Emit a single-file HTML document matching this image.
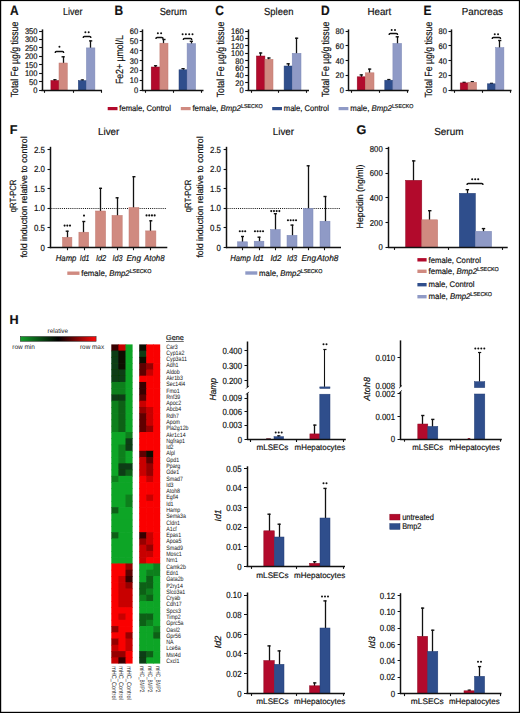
<!DOCTYPE html>
<html><head><meta charset="utf-8"><style>
html,body{margin:0;padding:0;background:#fff;}
svg{display:block;text-rendering:geometricPrecision;}
text{font-family:"Liberation Sans", sans-serif;fill:#111;stroke:#111;stroke-width:0.18px;}
</style></head><body>
<svg width="520" height="713" viewBox="0 0 520 713">
<rect x="0" y="0" width="520" height="713" fill="#fff"/>
<text x="10" y="14.6" font-size="13.6" font-weight="bold" textLength="8.64" lengthAdjust="spacingAndGlyphs">A</text>
<text x="63" y="14.7" font-size="10.2" textLength="19.5" lengthAdjust="spacingAndGlyphs">Liver</text>
<line x1="39.1" y1="90.5" x2="42" y2="90.5" stroke="#111" stroke-width="1.1"/>
<text x="37.5" y="92.95" font-size="8.2" text-anchor="end" textLength="4.19" lengthAdjust="spacingAndGlyphs">0</text>
<line x1="39.1" y1="81.5" x2="42" y2="81.5" stroke="#111" stroke-width="1.1"/>
<text x="37.5" y="84.54" font-size="8.2" text-anchor="end" textLength="8.39" lengthAdjust="spacingAndGlyphs">50</text>
<line x1="39.1" y1="73.5" x2="42" y2="73.5" stroke="#111" stroke-width="1.1"/>
<text x="37.5" y="76.12" font-size="8.2" text-anchor="end" textLength="12.58" lengthAdjust="spacingAndGlyphs">100</text>
<line x1="39.1" y1="64.5" x2="42" y2="64.5" stroke="#111" stroke-width="1.1"/>
<text x="37.5" y="67.71" font-size="8.2" text-anchor="end" textLength="12.58" lengthAdjust="spacingAndGlyphs">150</text>
<line x1="39.1" y1="56.5" x2="42" y2="56.5" stroke="#111" stroke-width="1.1"/>
<text x="37.5" y="59.29" font-size="8.2" text-anchor="end" textLength="12.58" lengthAdjust="spacingAndGlyphs">200</text>
<line x1="39.1" y1="47.5" x2="42" y2="47.5" stroke="#111" stroke-width="1.1"/>
<text x="37.5" y="50.88" font-size="8.2" text-anchor="end" textLength="12.58" lengthAdjust="spacingAndGlyphs">250</text>
<line x1="39.1" y1="39.5" x2="42" y2="39.5" stroke="#111" stroke-width="1.1"/>
<text x="37.5" y="42.47" font-size="8.2" text-anchor="end" textLength="12.58" lengthAdjust="spacingAndGlyphs">300</text>
<line x1="39.1" y1="31.5" x2="42" y2="31.5" stroke="#111" stroke-width="1.1"/>
<text x="37.5" y="34.05" font-size="8.2" text-anchor="end" textLength="12.58" lengthAdjust="spacingAndGlyphs">350</text>
<line x1="54.5" y1="81" x2="54.5" y2="79.4" stroke="#111" stroke-width="1.3"/>
<line x1="53.35" y1="79.8" x2="56.55" y2="79.8" stroke="#111" stroke-width="1.4"/>
<rect x="50.9" y="80.5" width="8.1" height="9.7" fill="#b20a2c" stroke="#8e0c25" stroke-width="0.5"/>
<line x1="63.5" y1="63.5" x2="63.5" y2="56.4" stroke="#111" stroke-width="1.3"/>
<line x1="61.55" y1="56.8" x2="64.75" y2="56.8" stroke="#111" stroke-width="1.4"/>
<rect x="59" y="63" width="8.3" height="27.2" fill="#d08a80" stroke="#c27a70" stroke-width="0.5"/>
<line x1="82.5" y1="81.1" x2="82.5" y2="79.6" stroke="#111" stroke-width="1.3"/>
<line x1="80.75" y1="80" x2="83.95" y2="80" stroke="#111" stroke-width="1.4"/>
<rect x="78.3" y="80.6" width="8.1" height="9.6" fill="#2f4e8c" stroke="#243f75" stroke-width="0.5"/>
<line x1="90.5" y1="48.4" x2="90.5" y2="40.5" stroke="#111" stroke-width="1.3"/>
<line x1="89.05" y1="40.9" x2="92.25" y2="40.9" stroke="#111" stroke-width="1.4"/>
<rect x="86.4" y="47.9" width="8.5" height="42.3" fill="#8f9ac6" stroke="#7d88b6" stroke-width="0.5"/>
<path d="M55.2 53.1 Q55.2 51.5 56.4 51.5 L62.5 51.5 Q63.7 51.5 63.7 53.1" fill="none" stroke="#111" stroke-width="1.4"/>
<circle cx="59.45" cy="46.8" r="1" fill="#111"/>
<path d="M83.2 38.1 Q83.2 36.5 84.4 36.5 L89.7 36.5 Q90.9 36.5 90.9 38.1" fill="none" stroke="#111" stroke-width="1.4"/>
<circle cx="85.4" cy="32.2" r="1" fill="#111"/>
<circle cx="88.7" cy="32.2" r="1" fill="#111"/>
<text x="17.7" y="97.3" font-size="10.4" textLength="75.6" lengthAdjust="spacingAndGlyphs" transform="rotate(-90 17.7 97.3)">Total Fe µg/g tissue</text>
<text x="114.6" y="14.6" font-size="13.6" font-weight="bold" textLength="8.64" lengthAdjust="spacingAndGlyphs">B</text>
<text x="159.7" y="14.7" font-size="10.2" textLength="27.3" lengthAdjust="spacingAndGlyphs">Serum</text>
<line x1="139.7" y1="90.5" x2="142.6" y2="90.5" stroke="#111" stroke-width="1.1"/>
<text x="138.1" y="92.95" font-size="8.2" text-anchor="end" textLength="4.19" lengthAdjust="spacingAndGlyphs">0</text>
<line x1="139.7" y1="80.5" x2="142.6" y2="80.5" stroke="#111" stroke-width="1.1"/>
<text x="138.1" y="83.14" font-size="8.2" text-anchor="end" textLength="8.39" lengthAdjust="spacingAndGlyphs">10</text>
<line x1="139.7" y1="70.5" x2="142.6" y2="70.5" stroke="#111" stroke-width="1.1"/>
<text x="138.1" y="73.32" font-size="8.2" text-anchor="end" textLength="8.39" lengthAdjust="spacingAndGlyphs">20</text>
<line x1="139.7" y1="60.5" x2="142.6" y2="60.5" stroke="#111" stroke-width="1.1"/>
<text x="138.1" y="63.5" font-size="8.2" text-anchor="end" textLength="8.39" lengthAdjust="spacingAndGlyphs">30</text>
<line x1="139.7" y1="50.5" x2="142.6" y2="50.5" stroke="#111" stroke-width="1.1"/>
<text x="138.1" y="53.69" font-size="8.2" text-anchor="end" textLength="8.39" lengthAdjust="spacingAndGlyphs">40</text>
<line x1="139.7" y1="40.5" x2="142.6" y2="40.5" stroke="#111" stroke-width="1.1"/>
<text x="138.1" y="43.87" font-size="8.2" text-anchor="end" textLength="8.39" lengthAdjust="spacingAndGlyphs">50</text>
<line x1="139.7" y1="31.5" x2="142.6" y2="31.5" stroke="#111" stroke-width="1.1"/>
<text x="138.1" y="34.05" font-size="8.2" text-anchor="end" textLength="8.39" lengthAdjust="spacingAndGlyphs">60</text>
<line x1="155.5" y1="67.5" x2="155.5" y2="65.4" stroke="#111" stroke-width="1.3"/>
<line x1="153.95" y1="65.8" x2="157.15" y2="65.8" stroke="#111" stroke-width="1.4"/>
<rect x="151.2" y="67" width="8.7" height="23.2" fill="#b20a2c" stroke="#8e0c25" stroke-width="0.5"/>
<line x1="163.5" y1="43.7" x2="163.5" y2="39.1" stroke="#111" stroke-width="1.3"/>
<line x1="162.35" y1="39.5" x2="165.55" y2="39.5" stroke="#111" stroke-width="1.4"/>
<rect x="159.9" y="43.2" width="8.1" height="47" fill="#d08a80" stroke="#c27a70" stroke-width="0.5"/>
<line x1="183.5" y1="70.3" x2="183.5" y2="68.3" stroke="#111" stroke-width="1.3"/>
<line x1="181.45" y1="68.7" x2="184.65" y2="68.7" stroke="#111" stroke-width="1.4"/>
<rect x="179" y="69.8" width="8.1" height="20.4" fill="#2f4e8c" stroke="#243f75" stroke-width="0.5"/>
<line x1="191.5" y1="44.1" x2="191.5" y2="40.9" stroke="#111" stroke-width="1.3"/>
<line x1="189.75" y1="41.3" x2="192.95" y2="41.3" stroke="#111" stroke-width="1.4"/>
<rect x="187.1" y="43.6" width="8.5" height="46.6" fill="#8f9ac6" stroke="#7d88b6" stroke-width="0.5"/>
<path d="M155.9 39.1 Q155.9 37.5 157.1 37.5 L161.9 37.5 Q163.1 37.5 163.1 39.1" fill="none" stroke="#111" stroke-width="1.4"/>
<circle cx="157.85" cy="33.3" r="1" fill="#111"/>
<circle cx="161.15" cy="33.3" r="1" fill="#111"/>
<path d="M183.3 40.1 Q183.3 38.5 184.5 38.5 L190.6 38.5 Q191.8 38.5 191.8 40.1" fill="none" stroke="#111" stroke-width="1.4"/>
<circle cx="182.6" cy="34.2" r="1" fill="#111"/>
<circle cx="185.9" cy="34.2" r="1" fill="#111"/>
<circle cx="189.2" cy="34.2" r="1" fill="#111"/>
<circle cx="192.5" cy="34.2" r="1" fill="#111"/>
<text x="122.9" y="84.1" font-size="10.4" textLength="48.9" lengthAdjust="spacingAndGlyphs" transform="rotate(-90 122.9 84.1)">Fe2+ µmol/L</text>
<text x="215.2" y="14.6" font-size="13.6" font-weight="bold" textLength="8.64" lengthAdjust="spacingAndGlyphs">C</text>
<text x="264" y="14.7" font-size="10.2" textLength="29.4" lengthAdjust="spacingAndGlyphs">Spleen</text>
<line x1="245.2" y1="90.5" x2="248.1" y2="90.5" stroke="#111" stroke-width="1.1"/>
<text x="243.6" y="92.95" font-size="8.2" text-anchor="end" textLength="4.19" lengthAdjust="spacingAndGlyphs">0</text>
<line x1="245.2" y1="82.5" x2="248.1" y2="82.5" stroke="#111" stroke-width="1.1"/>
<text x="243.6" y="85.59" font-size="8.2" text-anchor="end" textLength="8.39" lengthAdjust="spacingAndGlyphs">20</text>
<line x1="245.2" y1="75.5" x2="248.1" y2="75.5" stroke="#111" stroke-width="1.1"/>
<text x="243.6" y="78.23" font-size="8.2" text-anchor="end" textLength="8.39" lengthAdjust="spacingAndGlyphs">40</text>
<line x1="245.2" y1="67.5" x2="248.1" y2="67.5" stroke="#111" stroke-width="1.1"/>
<text x="243.6" y="70.86" font-size="8.2" text-anchor="end" textLength="8.39" lengthAdjust="spacingAndGlyphs">60</text>
<line x1="245.2" y1="60.5" x2="248.1" y2="60.5" stroke="#111" stroke-width="1.1"/>
<text x="243.6" y="63.5" font-size="8.2" text-anchor="end" textLength="8.39" lengthAdjust="spacingAndGlyphs">80</text>
<line x1="245.2" y1="53.5" x2="248.1" y2="53.5" stroke="#111" stroke-width="1.1"/>
<text x="243.6" y="56.14" font-size="8.2" text-anchor="end" textLength="12.58" lengthAdjust="spacingAndGlyphs">100</text>
<line x1="245.2" y1="45.5" x2="248.1" y2="45.5" stroke="#111" stroke-width="1.1"/>
<text x="243.6" y="48.78" font-size="8.2" text-anchor="end" textLength="12.58" lengthAdjust="spacingAndGlyphs">120</text>
<line x1="245.2" y1="38.5" x2="248.1" y2="38.5" stroke="#111" stroke-width="1.1"/>
<text x="243.6" y="41.41" font-size="8.2" text-anchor="end" textLength="12.58" lengthAdjust="spacingAndGlyphs">140</text>
<line x1="245.2" y1="31.5" x2="248.1" y2="31.5" stroke="#111" stroke-width="1.1"/>
<text x="243.6" y="34.05" font-size="8.2" text-anchor="end" textLength="12.58" lengthAdjust="spacingAndGlyphs">160</text>
<line x1="260.5" y1="56.5" x2="260.5" y2="52.6" stroke="#111" stroke-width="1.3"/>
<line x1="259.05" y1="53" x2="262.25" y2="53" stroke="#111" stroke-width="1.4"/>
<rect x="256.4" y="56" width="8.5" height="34.2" fill="#b20a2c" stroke="#8e0c25" stroke-width="0.5"/>
<line x1="268.5" y1="59.8" x2="268.5" y2="57.6" stroke="#111" stroke-width="1.3"/>
<line x1="267.35" y1="58" x2="270.55" y2="58" stroke="#111" stroke-width="1.4"/>
<rect x="264.9" y="59.3" width="8.1" height="30.9" fill="#d08a80" stroke="#c27a70" stroke-width="0.5"/>
<line x1="288.5" y1="66.5" x2="288.5" y2="63.4" stroke="#111" stroke-width="1.3"/>
<line x1="286.55" y1="63.8" x2="289.75" y2="63.8" stroke="#111" stroke-width="1.4"/>
<rect x="284.1" y="66" width="8.1" height="24.2" fill="#2f4e8c" stroke="#243f75" stroke-width="0.5"/>
<line x1="296.5" y1="53.8" x2="296.5" y2="37.8" stroke="#111" stroke-width="1.3"/>
<line x1="295" y1="38.2" x2="298.2" y2="38.2" stroke="#111" stroke-width="1.4"/>
<rect x="292.2" y="53.3" width="8.8" height="36.9" fill="#8f9ac6" stroke="#7d88b6" stroke-width="0.5"/>
<text x="224" y="97.3" font-size="10.4" textLength="75.6" lengthAdjust="spacingAndGlyphs" transform="rotate(-90 224 97.3)">Total Fe µg/g tissue</text>
<text x="320.9" y="14.6" font-size="13.6" font-weight="bold" textLength="8.64" lengthAdjust="spacingAndGlyphs">D</text>
<text x="367.4" y="14.7" font-size="10.2" textLength="23.9" lengthAdjust="spacingAndGlyphs">Heart</text>
<line x1="345.6" y1="90.5" x2="348.5" y2="90.5" stroke="#111" stroke-width="1.1"/>
<text x="344" y="92.95" font-size="8.2" text-anchor="end" textLength="4.19" lengthAdjust="spacingAndGlyphs">0</text>
<line x1="345.6" y1="75.5" x2="348.5" y2="75.5" stroke="#111" stroke-width="1.1"/>
<text x="344" y="78.23" font-size="8.2" text-anchor="end" textLength="8.39" lengthAdjust="spacingAndGlyphs">20</text>
<line x1="345.6" y1="60.5" x2="348.5" y2="60.5" stroke="#111" stroke-width="1.1"/>
<text x="344" y="63.5" font-size="8.2" text-anchor="end" textLength="8.39" lengthAdjust="spacingAndGlyphs">40</text>
<line x1="345.6" y1="45.5" x2="348.5" y2="45.5" stroke="#111" stroke-width="1.1"/>
<text x="344" y="48.78" font-size="8.2" text-anchor="end" textLength="8.39" lengthAdjust="spacingAndGlyphs">60</text>
<line x1="345.6" y1="31.5" x2="348.5" y2="31.5" stroke="#111" stroke-width="1.1"/>
<text x="344" y="34.05" font-size="8.2" text-anchor="end" textLength="8.39" lengthAdjust="spacingAndGlyphs">80</text>
<line x1="361.5" y1="77.3" x2="361.5" y2="74.5" stroke="#111" stroke-width="1.3"/>
<line x1="359.65" y1="74.9" x2="362.85" y2="74.9" stroke="#111" stroke-width="1.4"/>
<rect x="357.2" y="76.8" width="8.1" height="13.4" fill="#b20a2c" stroke="#8e0c25" stroke-width="0.5"/>
<line x1="369.5" y1="73.3" x2="369.5" y2="68.7" stroke="#111" stroke-width="1.3"/>
<line x1="368.05" y1="69.1" x2="371.25" y2="69.1" stroke="#111" stroke-width="1.4"/>
<rect x="365.3" y="72.8" width="8.7" height="17.4" fill="#d08a80" stroke="#c27a70" stroke-width="0.5"/>
<line x1="388.5" y1="80.7" x2="388.5" y2="79.2" stroke="#111" stroke-width="1.3"/>
<line x1="387.25" y1="79.6" x2="390.45" y2="79.6" stroke="#111" stroke-width="1.4"/>
<rect x="384.8" y="80.2" width="8.1" height="10" fill="#2f4e8c" stroke="#243f75" stroke-width="0.5"/>
<line x1="397.5" y1="43.9" x2="397.5" y2="36.4" stroke="#111" stroke-width="1.3"/>
<line x1="395.65" y1="36.8" x2="398.85" y2="36.8" stroke="#111" stroke-width="1.4"/>
<rect x="392.9" y="43.4" width="8.7" height="46.8" fill="#8f9ac6" stroke="#7d88b6" stroke-width="0.5"/>
<path d="M389.1 35.1 Q389.1 33.5 390.3 33.5 L396.4 33.5 Q397.6 33.5 397.6 35.1" fill="none" stroke="#111" stroke-width="1.4"/>
<circle cx="391.7" cy="29.9" r="1" fill="#111"/>
<circle cx="395" cy="29.9" r="1" fill="#111"/>
<text x="328.7" y="97.1" font-size="10.4" textLength="75.4" lengthAdjust="spacingAndGlyphs" transform="rotate(-90 328.7 97.1)">Total Fe µg/g tissue</text>
<text x="423.6" y="14.6" font-size="13.6" font-weight="bold" textLength="7.98" lengthAdjust="spacingAndGlyphs">E</text>
<text x="461.8" y="14.7" font-size="10.2" textLength="41.2" lengthAdjust="spacingAndGlyphs">Pancreas</text>
<line x1="448.5" y1="90.5" x2="451.4" y2="90.5" stroke="#111" stroke-width="1.1"/>
<text x="446.9" y="92.95" font-size="8.2" text-anchor="end" textLength="4.19" lengthAdjust="spacingAndGlyphs">0</text>
<line x1="448.5" y1="75.5" x2="451.4" y2="75.5" stroke="#111" stroke-width="1.1"/>
<text x="446.9" y="78.23" font-size="8.2" text-anchor="end" textLength="8.39" lengthAdjust="spacingAndGlyphs">20</text>
<line x1="448.5" y1="60.5" x2="451.4" y2="60.5" stroke="#111" stroke-width="1.1"/>
<text x="446.9" y="63.5" font-size="8.2" text-anchor="end" textLength="8.39" lengthAdjust="spacingAndGlyphs">40</text>
<line x1="448.5" y1="45.5" x2="451.4" y2="45.5" stroke="#111" stroke-width="1.1"/>
<text x="446.9" y="48.78" font-size="8.2" text-anchor="end" textLength="8.39" lengthAdjust="spacingAndGlyphs">60</text>
<line x1="448.5" y1="31.5" x2="451.4" y2="31.5" stroke="#111" stroke-width="1.1"/>
<text x="446.9" y="34.05" font-size="8.2" text-anchor="end" textLength="8.39" lengthAdjust="spacingAndGlyphs">80</text>
<line x1="464.5" y1="83.4" x2="464.5" y2="82" stroke="#111" stroke-width="1.3"/>
<line x1="462.5" y1="82.4" x2="465.7" y2="82.4" stroke="#111" stroke-width="1.4"/>
<rect x="460.2" y="82.9" width="7.8" height="7.3" fill="#b20a2c" stroke="#8e0c25" stroke-width="0.5"/>
<line x1="472.5" y1="82.7" x2="472.5" y2="81.3" stroke="#111" stroke-width="1.3"/>
<line x1="470.7" y1="81.7" x2="473.9" y2="81.7" stroke="#111" stroke-width="1.4"/>
<rect x="468" y="82.2" width="8.6" height="8" fill="#d08a80" stroke="#c27a70" stroke-width="0.5"/>
<line x1="491.5" y1="84.3" x2="491.5" y2="83" stroke="#111" stroke-width="1.3"/>
<line x1="489.9" y1="83.4" x2="493.1" y2="83.4" stroke="#111" stroke-width="1.4"/>
<rect x="487.4" y="83.8" width="8.2" height="6.4" fill="#2f4e8c" stroke="#243f75" stroke-width="0.5"/>
<line x1="499.5" y1="48.1" x2="499.5" y2="40.1" stroke="#111" stroke-width="1.3"/>
<line x1="498.15" y1="40.5" x2="501.35" y2="40.5" stroke="#111" stroke-width="1.4"/>
<rect x="495.6" y="47.6" width="8.3" height="42.6" fill="#8f9ac6" stroke="#7d88b6" stroke-width="0.5"/>
<path d="M492.2 39.1 Q492.2 37.5 493.4 37.5 L499.4 37.5 Q500.6 37.5 500.6 39.1" fill="none" stroke="#111" stroke-width="1.4"/>
<circle cx="494.75" cy="34.2" r="1" fill="#111"/>
<circle cx="498.05" cy="34.2" r="1" fill="#111"/>
<text x="431.6" y="97.5" font-size="10.4" textLength="75.8" lengthAdjust="spacingAndGlyphs" transform="rotate(-90 431.6 97.5)">Total Fe µg/g tissue</text>
<rect x="107.7" y="107" width="9.8" height="3.2" fill="#b20a2c"/>
<text x="119.3" y="111.37" font-size="8.4" textLength="51.7" lengthAdjust="spacingAndGlyphs">female, Control</text>
<rect x="180.8" y="107" width="9.8" height="3.2" fill="#d08a80"/>
<text x="192.4" y="111.37" font-size="8.4" textLength="70.3" lengthAdjust="spacingAndGlyphs">female, <tspan font-style="italic">Bmp2</tspan><tspan font-size="5.71" dy="-3.19">LSECKO</tspan></text>
<rect x="272.2" y="107" width="9.8" height="3.2" fill="#2f4e8c"/>
<text x="283.8" y="111.37" font-size="8.4" textLength="45.2" lengthAdjust="spacingAndGlyphs">male, Control</text>
<rect x="338.6" y="107" width="9.8" height="3.2" fill="#8f9ac6"/>
<text x="350.2" y="111.37" font-size="8.4" textLength="63.3" lengthAdjust="spacingAndGlyphs">male, <tspan font-style="italic">Bmp2</tspan><tspan font-size="5.71" dy="-3.19">LSECKO</tspan></text>
<line x1="47.5" y1="247.5" x2="50.4" y2="247.5" stroke="#111" stroke-width="1.1"/>
<text x="44.9" y="250.77" font-size="8.8" text-anchor="end" textLength="4.4" lengthAdjust="spacingAndGlyphs">0</text>
<line x1="47.5" y1="227.5" x2="50.4" y2="227.5" stroke="#111" stroke-width="1.1"/>
<text x="44.9" y="231.12" font-size="8.8" text-anchor="end" textLength="11.01" lengthAdjust="spacingAndGlyphs">0.5</text>
<line x1="47.5" y1="208.5" x2="50.4" y2="208.5" stroke="#111" stroke-width="1.1"/>
<text x="44.9" y="211.47" font-size="8.8" text-anchor="end" textLength="11.01" lengthAdjust="spacingAndGlyphs">1.0</text>
<line x1="47.5" y1="188.5" x2="50.4" y2="188.5" stroke="#111" stroke-width="1.1"/>
<text x="44.9" y="191.82" font-size="8.8" text-anchor="end" textLength="11.01" lengthAdjust="spacingAndGlyphs">1.5</text>
<line x1="47.5" y1="169.5" x2="50.4" y2="169.5" stroke="#111" stroke-width="1.1"/>
<text x="44.9" y="172.17" font-size="8.8" text-anchor="end" textLength="11.01" lengthAdjust="spacingAndGlyphs">2.0</text>
<line x1="47.5" y1="149.5" x2="50.4" y2="149.5" stroke="#111" stroke-width="1.1"/>
<text x="44.9" y="152.52" font-size="8.8" text-anchor="end" textLength="11.01" lengthAdjust="spacingAndGlyphs">2.5</text>
<line x1="51.4" y1="208.5" x2="166.4" y2="208.5" stroke="#111" stroke-width="1" stroke-dasharray="1 1.1"/>
<line x1="67.5" y1="237.8" x2="67.5" y2="230.8" stroke="#111" stroke-width="1.3"/>
<line x1="65.7" y1="231.2" x2="68.7" y2="231.2" stroke="#111" stroke-width="1.4"/>
<rect x="62.5" y="237.3" width="9.4" height="10.3" fill="#d08a80" stroke="#c27a70" stroke-width="0.5"/>
<line x1="83.5" y1="232.7" x2="83.5" y2="221.1" stroke="#111" stroke-width="1.3"/>
<line x1="82.3" y1="221.5" x2="85.3" y2="221.5" stroke="#111" stroke-width="1.4"/>
<rect x="78.9" y="232.2" width="9.8" height="15.4" fill="#d08a80" stroke="#c27a70" stroke-width="0.5"/>
<line x1="100.5" y1="211.5" x2="100.5" y2="187.9" stroke="#111" stroke-width="1.3"/>
<line x1="99.05" y1="188.3" x2="102.05" y2="188.3" stroke="#111" stroke-width="1.4"/>
<rect x="95.5" y="211" width="10.1" height="36.6" fill="#d08a80" stroke="#c27a70" stroke-width="0.5"/>
<line x1="117.5" y1="215.9" x2="117.5" y2="197.4" stroke="#111" stroke-width="1.3"/>
<line x1="115.6" y1="197.8" x2="118.6" y2="197.8" stroke="#111" stroke-width="1.4"/>
<rect x="112" y="215.4" width="10.2" height="32.2" fill="#d08a80" stroke="#c27a70" stroke-width="0.5"/>
<line x1="133.5" y1="208" x2="133.5" y2="176.3" stroke="#111" stroke-width="1.3"/>
<line x1="132.45" y1="176.7" x2="135.45" y2="176.7" stroke="#111" stroke-width="1.4"/>
<rect x="129" y="207.5" width="9.9" height="40.1" fill="#d08a80" stroke="#c27a70" stroke-width="0.5"/>
<line x1="150.5" y1="231.4" x2="150.5" y2="220.4" stroke="#111" stroke-width="1.3"/>
<line x1="149.3" y1="220.8" x2="152.3" y2="220.8" stroke="#111" stroke-width="1.4"/>
<rect x="145.7" y="230.9" width="10.2" height="16.7" fill="#d08a80" stroke="#c27a70" stroke-width="0.5"/>
<circle cx="64.6" cy="225.6" r="1.05" fill="#111"/>
<circle cx="67.3" cy="225.6" r="1.05" fill="#111"/>
<circle cx="70" cy="225.6" r="1.05" fill="#111"/>
<circle cx="84" cy="215.6" r="1.05" fill="#111"/>
<circle cx="146.55" cy="215.4" r="1.05" fill="#111"/>
<circle cx="149.25" cy="215.4" r="1.05" fill="#111"/>
<circle cx="151.95" cy="215.4" r="1.05" fill="#111"/>
<circle cx="154.65" cy="215.4" r="1.05" fill="#111"/>
<text x="55.8" y="260.9" font-size="8.6" font-style="italic" textLength="20.6" lengthAdjust="spacingAndGlyphs">Hamp</text>
<text x="79.7" y="260.9" font-size="8.6" font-style="italic" textLength="9.7" lengthAdjust="spacingAndGlyphs">Id1</text>
<text x="95.9" y="260.9" font-size="8.6" font-style="italic" textLength="10.3" lengthAdjust="spacingAndGlyphs">Id2</text>
<text x="112.4" y="260.9" font-size="8.6" font-style="italic" textLength="10.1" lengthAdjust="spacingAndGlyphs">Id3</text>
<text x="126.4" y="260.9" font-size="8.6" font-style="italic" textLength="14.6" lengthAdjust="spacingAndGlyphs">Eng</text>
<text x="144" y="260.9" font-size="8.6" font-style="italic" textLength="20.6" lengthAdjust="spacingAndGlyphs">Atoh8</text>
<text x="98" y="135.1" font-size="10.2" textLength="21.4" lengthAdjust="spacingAndGlyphs">Liver</text>
<line x1="223.6" y1="247.5" x2="226.5" y2="247.5" stroke="#111" stroke-width="1.1"/>
<text x="221" y="250.77" font-size="8.8" text-anchor="end" textLength="4.4" lengthAdjust="spacingAndGlyphs">0</text>
<line x1="223.6" y1="227.5" x2="226.5" y2="227.5" stroke="#111" stroke-width="1.1"/>
<text x="221" y="231.12" font-size="8.8" text-anchor="end" textLength="11.01" lengthAdjust="spacingAndGlyphs">0.5</text>
<line x1="223.6" y1="208.5" x2="226.5" y2="208.5" stroke="#111" stroke-width="1.1"/>
<text x="221" y="211.47" font-size="8.8" text-anchor="end" textLength="11.01" lengthAdjust="spacingAndGlyphs">1.0</text>
<line x1="223.6" y1="188.5" x2="226.5" y2="188.5" stroke="#111" stroke-width="1.1"/>
<text x="221" y="191.82" font-size="8.8" text-anchor="end" textLength="11.01" lengthAdjust="spacingAndGlyphs">1.5</text>
<line x1="223.6" y1="169.5" x2="226.5" y2="169.5" stroke="#111" stroke-width="1.1"/>
<text x="221" y="172.17" font-size="8.8" text-anchor="end" textLength="11.01" lengthAdjust="spacingAndGlyphs">2.0</text>
<line x1="223.6" y1="149.5" x2="226.5" y2="149.5" stroke="#111" stroke-width="1.1"/>
<text x="221" y="152.52" font-size="8.8" text-anchor="end" textLength="11.01" lengthAdjust="spacingAndGlyphs">2.5</text>
<line x1="227.5" y1="208.5" x2="340.5" y2="208.5" stroke="#111" stroke-width="1" stroke-dasharray="1 1.1"/>
<line x1="242.5" y1="242.3" x2="242.5" y2="236.1" stroke="#111" stroke-width="1.3"/>
<line x1="241" y1="236.5" x2="244" y2="236.5" stroke="#111" stroke-width="1.4"/>
<rect x="237.5" y="241.8" width="10" height="5.8" fill="#8f9ac6" stroke="#7d88b6" stroke-width="0.5"/>
<line x1="259.5" y1="241.7" x2="259.5" y2="236.8" stroke="#111" stroke-width="1.3"/>
<line x1="257.55" y1="237.2" x2="260.55" y2="237.2" stroke="#111" stroke-width="1.4"/>
<rect x="254.2" y="241.2" width="9.7" height="6.4" fill="#8f9ac6" stroke="#7d88b6" stroke-width="0.5"/>
<line x1="275.5" y1="230" x2="275.5" y2="213.3" stroke="#111" stroke-width="1.3"/>
<line x1="273.85" y1="213.7" x2="276.85" y2="213.7" stroke="#111" stroke-width="1.4"/>
<rect x="270.5" y="229.5" width="9.7" height="18.1" fill="#8f9ac6" stroke="#7d88b6" stroke-width="0.5"/>
<line x1="292.5" y1="235.8" x2="292.5" y2="224.7" stroke="#111" stroke-width="1.3"/>
<line x1="290.5" y1="225.1" x2="293.5" y2="225.1" stroke="#111" stroke-width="1.4"/>
<rect x="287" y="235.3" width="10" height="12.3" fill="#8f9ac6" stroke="#7d88b6" stroke-width="0.5"/>
<line x1="308.5" y1="208.9" x2="308.5" y2="165.4" stroke="#111" stroke-width="1.3"/>
<line x1="306.65" y1="165.8" x2="309.65" y2="165.8" stroke="#111" stroke-width="1.4"/>
<rect x="303.3" y="208.4" width="9.7" height="39.2" fill="#8f9ac6" stroke="#7d88b6" stroke-width="0.5"/>
<line x1="325.5" y1="221.7" x2="325.5" y2="196.1" stroke="#111" stroke-width="1.3"/>
<line x1="323.5" y1="196.5" x2="326.5" y2="196.5" stroke="#111" stroke-width="1.4"/>
<rect x="320" y="221.2" width="10" height="26.4" fill="#8f9ac6" stroke="#7d88b6" stroke-width="0.5"/>
<circle cx="239.8" cy="231.3" r="1.05" fill="#111"/>
<circle cx="242.5" cy="231.3" r="1.05" fill="#111"/>
<circle cx="245.2" cy="231.3" r="1.05" fill="#111"/>
<circle cx="254.95" cy="231.3" r="1.05" fill="#111"/>
<circle cx="257.65" cy="231.3" r="1.05" fill="#111"/>
<circle cx="260.35" cy="231.3" r="1.05" fill="#111"/>
<circle cx="263.05" cy="231.3" r="1.05" fill="#111"/>
<circle cx="271.25" cy="211.1" r="1.05" fill="#111"/>
<circle cx="273.95" cy="211.1" r="1.05" fill="#111"/>
<circle cx="276.65" cy="211.1" r="1.05" fill="#111"/>
<circle cx="279.35" cy="211.1" r="1.05" fill="#111"/>
<circle cx="287.95" cy="220.2" r="1.05" fill="#111"/>
<circle cx="290.65" cy="220.2" r="1.05" fill="#111"/>
<circle cx="293.35" cy="220.2" r="1.05" fill="#111"/>
<circle cx="296.05" cy="220.2" r="1.05" fill="#111"/>
<text x="230.2" y="260.9" font-size="8.6" font-style="italic" textLength="20.5" lengthAdjust="spacingAndGlyphs">Hamp</text>
<text x="253" y="260.9" font-size="8.6" font-style="italic" textLength="11" lengthAdjust="spacingAndGlyphs">Id1</text>
<text x="270.4" y="260.9" font-size="8.6" font-style="italic" textLength="11.1" lengthAdjust="spacingAndGlyphs">Id2</text>
<text x="287" y="260.9" font-size="8.6" font-style="italic" textLength="10.2" lengthAdjust="spacingAndGlyphs">Id3</text>
<text x="301.4" y="260.9" font-size="8.6" font-style="italic" textLength="14.6" lengthAdjust="spacingAndGlyphs">Eng</text>
<text x="316.8" y="260.9" font-size="8.6" font-style="italic" textLength="21.6" lengthAdjust="spacingAndGlyphs">Atoh8</text>
<text x="272.8" y="135.1" font-size="10.2" textLength="21.2" lengthAdjust="spacingAndGlyphs">Liver</text>
<text x="9.8" y="134.2" font-size="12.6" font-weight="bold">F</text>
<text x="27.5" y="257.6" font-size="9" textLength="121.2" lengthAdjust="spacingAndGlyphs" transform="rotate(-90 27.5 257.6)">fold induction relative to control</text>
<text x="16.2" y="212.2" font-size="9" textLength="32.6" lengthAdjust="spacingAndGlyphs" transform="rotate(-90 16.2 212.2)">qRT-PCR</text>
<text x="202.9" y="257.6" font-size="9" textLength="121.2" lengthAdjust="spacingAndGlyphs" transform="rotate(-90 202.9 257.6)">fold induction relative to control</text>
<text x="191.4" y="212.2" font-size="9" textLength="32.6" lengthAdjust="spacingAndGlyphs" transform="rotate(-90 191.4 212.2)">qRT-PCR</text>
<rect x="67.3" y="271.5" width="12.2" height="3.4" fill="#d08a80"/>
<text x="81.3" y="275.99" font-size="8.2" textLength="70" lengthAdjust="spacingAndGlyphs">female, <tspan font-style="italic">Bmp2</tspan><tspan font-size="5.58" dy="-3.12">LSECKO</tspan></text>
<rect x="245.3" y="271.3" width="12" height="3.4" fill="#8f9ac6"/>
<text x="259.1" y="275.79" font-size="8.2" textLength="63.2" lengthAdjust="spacingAndGlyphs">male, <tspan font-style="italic">Bmp2</tspan><tspan font-size="5.58" dy="-3.12">LSECKO</tspan></text>
<text x="356.6" y="134.2" font-size="12.6" font-weight="bold">G</text>
<text x="434.2" y="135" font-size="10.2" textLength="29.3" lengthAdjust="spacingAndGlyphs">Serum</text>
<line x1="385.5" y1="247.5" x2="388.7" y2="247.5" stroke="#111" stroke-width="1.1"/>
<text x="382.7" y="250.4" font-size="8.6" text-anchor="end" textLength="4.3" lengthAdjust="spacingAndGlyphs">0</text>
<line x1="385.5" y1="222.5" x2="388.7" y2="222.5" stroke="#111" stroke-width="1.1"/>
<text x="382.7" y="225.67" font-size="8.6" text-anchor="end" textLength="12.91" lengthAdjust="spacingAndGlyphs">200</text>
<line x1="385.5" y1="197.5" x2="388.7" y2="197.5" stroke="#111" stroke-width="1.1"/>
<text x="382.7" y="200.95" font-size="8.6" text-anchor="end" textLength="12.91" lengthAdjust="spacingAndGlyphs">400</text>
<line x1="385.5" y1="173.5" x2="388.7" y2="173.5" stroke="#111" stroke-width="1.1"/>
<text x="382.7" y="176.22" font-size="8.6" text-anchor="end" textLength="12.91" lengthAdjust="spacingAndGlyphs">600</text>
<line x1="385.5" y1="148.5" x2="388.7" y2="148.5" stroke="#111" stroke-width="1.1"/>
<text x="382.7" y="151.5" font-size="8.6" text-anchor="end" textLength="12.91" lengthAdjust="spacingAndGlyphs">800</text>
<line x1="413.5" y1="180.8" x2="413.5" y2="160.5" stroke="#111" stroke-width="1.3"/>
<line x1="412" y1="160.9" x2="415.4" y2="160.9" stroke="#111" stroke-width="1.4"/>
<rect x="405.6" y="180.3" width="16.2" height="67" fill="#b20a2c" stroke="#8e0c25" stroke-width="0.5"/>
<line x1="429.5" y1="220.3" x2="429.5" y2="210.3" stroke="#111" stroke-width="1.3"/>
<line x1="428.05" y1="210.7" x2="431.45" y2="210.7" stroke="#111" stroke-width="1.4"/>
<rect x="421.8" y="219.8" width="15.9" height="27.5" fill="#d08a80" stroke="#c27a70" stroke-width="0.5"/>
<line x1="467.5" y1="193.8" x2="467.5" y2="189.3" stroke="#111" stroke-width="1.3"/>
<line x1="465.65" y1="189.7" x2="469.05" y2="189.7" stroke="#111" stroke-width="1.4"/>
<rect x="459.3" y="193.3" width="16.1" height="54" fill="#2f4e8c" stroke="#243f75" stroke-width="0.5"/>
<line x1="483.5" y1="231.8" x2="483.5" y2="228.2" stroke="#111" stroke-width="1.3"/>
<line x1="481.8" y1="228.6" x2="485.2" y2="228.6" stroke="#111" stroke-width="1.4"/>
<rect x="475.4" y="231.3" width="16.2" height="16" fill="#8f9ac6" stroke="#7d88b6" stroke-width="0.5"/>
<path d="M467 185.1 Q467 183.5 468.2 183.5 L481.8 183.5 Q483 183.5 483 185.1" fill="none" stroke="#111" stroke-width="1.4"/>
<circle cx="472.2" cy="179.3" r="1.05" fill="#111"/>
<circle cx="475.2" cy="179.3" r="1.05" fill="#111"/>
<circle cx="478.2" cy="179.3" r="1.05" fill="#111"/>
<text x="363.4" y="228.4" font-size="9.4" textLength="63.8" lengthAdjust="spacingAndGlyphs" transform="rotate(-90 363.4 228.4)">Hepcidin (ng/ml)</text>
<rect x="417.4" y="258.1" width="9.2" height="3.4" fill="#b20a2c"/>
<text x="428.6" y="262.59" font-size="8.2" textLength="52.3" lengthAdjust="spacingAndGlyphs">female, Control</text>
<rect x="417.4" y="269.6" width="9.2" height="3.4" fill="#d08a80"/>
<text x="428.6" y="274.09" font-size="8.2" textLength="70.2" lengthAdjust="spacingAndGlyphs">female, <tspan font-style="italic">Bmp2</tspan><tspan font-size="5.58" dy="-3.12">LSECKO</tspan></text>
<rect x="417.4" y="283" width="9.2" height="3.4" fill="#2f4e8c"/>
<text x="428.6" y="287.49" font-size="8.2" textLength="45.9" lengthAdjust="spacingAndGlyphs">male, Control</text>
<rect x="417.4" y="295" width="9.2" height="3.4" fill="#8f9ac6"/>
<text x="428.6" y="299.49" font-size="8.2" textLength="63.4" lengthAdjust="spacingAndGlyphs">male, <tspan font-style="italic">Bmp2</tspan><tspan font-size="5.58" dy="-3.12">LSECKO</tspan></text>
<text x="9.4" y="323.8" font-size="12.6" font-weight="bold">H</text>
<defs><linearGradient id="cb" x1="0" x2="1" y1="0" y2="0"><stop offset="0" stop-color="#12a02a"/><stop offset="0.5" stop-color="#000"/><stop offset="1" stop-color="#ff0a0a"/></linearGradient></defs>
<rect x="20.3" y="336.5" width="75.8" height="4.8" fill="url(#cb)" stroke="#222" stroke-width="0.5"/>
<text x="47.6" y="332.5" font-size="6.6" textLength="20.5" lengthAdjust="spacingAndGlyphs" style="fill:#222;stroke:none">relative</text>
<text x="12.3" y="349.4" font-size="6.6" textLength="22.6" lengthAdjust="spacingAndGlyphs" style="fill:#222;stroke:none">row min</text>
<text x="80" y="349.4" font-size="6.6" textLength="24.1" lengthAdjust="spacingAndGlyphs" style="fill:#222;stroke:none">row max</text>
<defs><filter id="hb" x="-5%" y="-1%" width="110%" height="102%"><feGaussianBlur stdDeviation="0.45"/></filter></defs><g filter="url(#hb)">
<rect x="111.3" y="344.4" width="7.8" height="6.96" fill="#370404"/>
<rect x="139.2" y="344.4" width="7.7" height="6.96" fill="#0e0a06"/>
<rect x="118.4" y="344.4" width="7.8" height="6.96" fill="#c80404"/>
<rect x="146.2" y="344.4" width="7.7" height="6.96" fill="#fa0606"/>
<rect x="125.5" y="344.4" width="7.1" height="6.96" fill="#10a528"/>
<rect x="153.2" y="344.4" width="7" height="6.96" fill="#fa0606"/>
<rect x="111.3" y="350.66" width="7.8" height="6.96" fill="#083e12"/>
<rect x="139.2" y="350.66" width="7.7" height="6.96" fill="#083e12"/>
<rect x="118.4" y="350.66" width="7.8" height="6.96" fill="#0e0a06"/>
<rect x="146.2" y="350.66" width="7.7" height="6.96" fill="#fa0606"/>
<rect x="125.5" y="350.66" width="7.1" height="6.96" fill="#10a528"/>
<rect x="153.2" y="350.66" width="7" height="6.96" fill="#fa0606"/>
<rect x="111.3" y="356.92" width="7.8" height="6.96" fill="#083e12"/>
<rect x="139.2" y="356.92" width="7.7" height="6.96" fill="#0e0a06"/>
<rect x="118.4" y="356.92" width="7.8" height="6.96" fill="#0e0a06"/>
<rect x="146.2" y="356.92" width="7.7" height="6.96" fill="#fa0606"/>
<rect x="125.5" y="356.92" width="7.1" height="6.96" fill="#10a528"/>
<rect x="153.2" y="356.92" width="7" height="6.96" fill="#fa0606"/>
<rect x="111.3" y="363.18" width="7.8" height="6.96" fill="#083e12"/>
<rect x="139.2" y="363.18" width="7.7" height="6.96" fill="#5f0404"/>
<rect x="118.4" y="363.18" width="7.8" height="6.96" fill="#0e0a06"/>
<rect x="146.2" y="363.18" width="7.7" height="6.96" fill="#960404"/>
<rect x="125.5" y="363.18" width="7.1" height="6.96" fill="#10a528"/>
<rect x="153.2" y="363.18" width="7" height="6.96" fill="#fa0606"/>
<rect x="111.3" y="369.44" width="7.8" height="6.96" fill="#083e12"/>
<rect x="139.2" y="369.44" width="7.7" height="6.96" fill="#5f0404"/>
<rect x="118.4" y="369.44" width="7.8" height="6.96" fill="#083e12"/>
<rect x="146.2" y="369.44" width="7.7" height="6.96" fill="#c80404"/>
<rect x="125.5" y="369.44" width="7.1" height="6.96" fill="#10a528"/>
<rect x="153.2" y="369.44" width="7" height="6.96" fill="#fa0606"/>
<rect x="111.3" y="375.69" width="7.8" height="6.96" fill="#083e12"/>
<rect x="139.2" y="375.69" width="7.7" height="6.96" fill="#fa0606"/>
<rect x="118.4" y="375.69" width="7.8" height="6.96" fill="#083e12"/>
<rect x="146.2" y="375.69" width="7.7" height="6.96" fill="#fa0606"/>
<rect x="125.5" y="375.69" width="7.1" height="6.96" fill="#10a528"/>
<rect x="153.2" y="375.69" width="7" height="6.96" fill="#fa0606"/>
<rect x="111.3" y="381.95" width="7.8" height="6.96" fill="#0c801e"/>
<rect x="139.2" y="381.95" width="7.7" height="6.96" fill="#370404"/>
<rect x="118.4" y="381.95" width="7.8" height="6.96" fill="#0c801e"/>
<rect x="146.2" y="381.95" width="7.7" height="6.96" fill="#fa0606"/>
<rect x="125.5" y="381.95" width="7.1" height="6.96" fill="#10a528"/>
<rect x="153.2" y="381.95" width="7" height="6.96" fill="#fa0606"/>
<rect x="111.3" y="388.21" width="7.8" height="6.96" fill="#0c801e"/>
<rect x="139.2" y="388.21" width="7.7" height="6.96" fill="#370404"/>
<rect x="118.4" y="388.21" width="7.8" height="6.96" fill="#0c801e"/>
<rect x="146.2" y="388.21" width="7.7" height="6.96" fill="#fa0606"/>
<rect x="125.5" y="388.21" width="7.1" height="6.96" fill="#10a528"/>
<rect x="153.2" y="388.21" width="7" height="6.96" fill="#fa0606"/>
<rect x="111.3" y="394.47" width="7.8" height="6.96" fill="#083e12"/>
<rect x="139.2" y="394.47" width="7.7" height="6.96" fill="#5f0404"/>
<rect x="118.4" y="394.47" width="7.8" height="6.96" fill="#083e12"/>
<rect x="146.2" y="394.47" width="7.7" height="6.96" fill="#fa0606"/>
<rect x="125.5" y="394.47" width="7.1" height="6.96" fill="#10a528"/>
<rect x="153.2" y="394.47" width="7" height="6.96" fill="#fa0606"/>
<rect x="111.3" y="400.73" width="7.8" height="6.96" fill="#0c801e"/>
<rect x="139.2" y="400.73" width="7.7" height="6.96" fill="#c80404"/>
<rect x="118.4" y="400.73" width="7.8" height="6.96" fill="#0a6018"/>
<rect x="146.2" y="400.73" width="7.7" height="6.96" fill="#fa0606"/>
<rect x="125.5" y="400.73" width="7.1" height="6.96" fill="#10a528"/>
<rect x="153.2" y="400.73" width="7" height="6.96" fill="#fa0606"/>
<rect x="111.3" y="406.99" width="7.8" height="6.96" fill="#0c801e"/>
<rect x="139.2" y="406.99" width="7.7" height="6.96" fill="#960404"/>
<rect x="118.4" y="406.99" width="7.8" height="6.96" fill="#0a6018"/>
<rect x="146.2" y="406.99" width="7.7" height="6.96" fill="#c80404"/>
<rect x="125.5" y="406.99" width="7.1" height="6.96" fill="#10a528"/>
<rect x="153.2" y="406.99" width="7" height="6.96" fill="#fa0606"/>
<rect x="111.3" y="413.25" width="7.8" height="6.96" fill="#0c801e"/>
<rect x="139.2" y="413.25" width="7.7" height="6.96" fill="#5f0404"/>
<rect x="118.4" y="413.25" width="7.8" height="6.96" fill="#0a6018"/>
<rect x="146.2" y="413.25" width="7.7" height="6.96" fill="#c80404"/>
<rect x="125.5" y="413.25" width="7.1" height="6.96" fill="#10a528"/>
<rect x="153.2" y="413.25" width="7" height="6.96" fill="#fa0606"/>
<rect x="111.3" y="419.51" width="7.8" height="6.96" fill="#0c801e"/>
<rect x="139.2" y="419.51" width="7.7" height="6.96" fill="#5f0404"/>
<rect x="118.4" y="419.51" width="7.8" height="6.96" fill="#0a6018"/>
<rect x="146.2" y="419.51" width="7.7" height="6.96" fill="#c80404"/>
<rect x="125.5" y="419.51" width="7.1" height="6.96" fill="#10a528"/>
<rect x="153.2" y="419.51" width="7" height="6.96" fill="#fa0606"/>
<rect x="111.3" y="425.76" width="7.8" height="6.96" fill="#0c801e"/>
<rect x="139.2" y="425.76" width="7.7" height="6.96" fill="#5f0404"/>
<rect x="118.4" y="425.76" width="7.8" height="6.96" fill="#0a6018"/>
<rect x="146.2" y="425.76" width="7.7" height="6.96" fill="#960404"/>
<rect x="125.5" y="425.76" width="7.1" height="6.96" fill="#10a528"/>
<rect x="153.2" y="425.76" width="7" height="6.96" fill="#fa0606"/>
<rect x="111.3" y="432.02" width="7.8" height="6.96" fill="#10a528"/>
<rect x="139.2" y="432.02" width="7.7" height="6.96" fill="#fa0606"/>
<rect x="118.4" y="432.02" width="7.8" height="6.96" fill="#10a528"/>
<rect x="146.2" y="432.02" width="7.7" height="6.96" fill="#fa0606"/>
<rect x="125.5" y="432.02" width="7.1" height="6.96" fill="#0c801e"/>
<rect x="153.2" y="432.02" width="7" height="6.96" fill="#fa0606"/>
<rect x="111.3" y="438.28" width="7.8" height="6.96" fill="#10a528"/>
<rect x="139.2" y="438.28" width="7.7" height="6.96" fill="#fa0606"/>
<rect x="118.4" y="438.28" width="7.8" height="6.96" fill="#10a528"/>
<rect x="146.2" y="438.28" width="7.7" height="6.96" fill="#fa0606"/>
<rect x="125.5" y="438.28" width="7.1" height="6.96" fill="#083e12"/>
<rect x="153.2" y="438.28" width="7" height="6.96" fill="#fa0606"/>
<rect x="111.3" y="444.54" width="7.8" height="6.96" fill="#10a528"/>
<rect x="139.2" y="444.54" width="7.7" height="6.96" fill="#fa0606"/>
<rect x="118.4" y="444.54" width="7.8" height="6.96" fill="#0c801e"/>
<rect x="146.2" y="444.54" width="7.7" height="6.96" fill="#fa0606"/>
<rect x="125.5" y="444.54" width="7.1" height="6.96" fill="#083e12"/>
<rect x="153.2" y="444.54" width="7" height="6.96" fill="#fa0606"/>
<rect x="111.3" y="450.8" width="7.8" height="6.96" fill="#10a528"/>
<rect x="139.2" y="450.8" width="7.7" height="6.96" fill="#5f0404"/>
<rect x="118.4" y="450.8" width="7.8" height="6.96" fill="#0c801e"/>
<rect x="146.2" y="450.8" width="7.7" height="6.96" fill="#0e0a06"/>
<rect x="125.5" y="450.8" width="7.1" height="6.96" fill="#10a528"/>
<rect x="153.2" y="450.8" width="7" height="6.96" fill="#fa0606"/>
<rect x="111.3" y="457.06" width="7.8" height="6.96" fill="#10a528"/>
<rect x="139.2" y="457.06" width="7.7" height="6.96" fill="#c80404"/>
<rect x="118.4" y="457.06" width="7.8" height="6.96" fill="#0c801e"/>
<rect x="146.2" y="457.06" width="7.7" height="6.96" fill="#5f0404"/>
<rect x="125.5" y="457.06" width="7.1" height="6.96" fill="#10a528"/>
<rect x="153.2" y="457.06" width="7" height="6.96" fill="#fa0606"/>
<rect x="111.3" y="463.32" width="7.8" height="6.96" fill="#10a528"/>
<rect x="139.2" y="463.32" width="7.7" height="6.96" fill="#c80404"/>
<rect x="118.4" y="463.32" width="7.8" height="6.96" fill="#083e12"/>
<rect x="146.2" y="463.32" width="7.7" height="6.96" fill="#960404"/>
<rect x="125.5" y="463.32" width="7.1" height="6.96" fill="#083e12"/>
<rect x="153.2" y="463.32" width="7" height="6.96" fill="#fa0606"/>
<rect x="111.3" y="469.58" width="7.8" height="6.96" fill="#10a528"/>
<rect x="139.2" y="469.58" width="7.7" height="6.96" fill="#c80404"/>
<rect x="118.4" y="469.58" width="7.8" height="6.96" fill="#083e12"/>
<rect x="146.2" y="469.58" width="7.7" height="6.96" fill="#960404"/>
<rect x="125.5" y="469.58" width="7.1" height="6.96" fill="#0a6018"/>
<rect x="153.2" y="469.58" width="7" height="6.96" fill="#fa0606"/>
<rect x="111.3" y="475.84" width="7.8" height="6.96" fill="#0c801e"/>
<rect x="139.2" y="475.84" width="7.7" height="6.96" fill="#fa0606"/>
<rect x="118.4" y="475.84" width="7.8" height="6.96" fill="#10a528"/>
<rect x="146.2" y="475.84" width="7.7" height="6.96" fill="#c80404"/>
<rect x="125.5" y="475.84" width="7.1" height="6.96" fill="#10a528"/>
<rect x="153.2" y="475.84" width="7" height="6.96" fill="#fa0606"/>
<rect x="111.3" y="482.09" width="7.8" height="6.96" fill="#10a528"/>
<rect x="139.2" y="482.09" width="7.7" height="6.96" fill="#fa0606"/>
<rect x="118.4" y="482.09" width="7.8" height="6.96" fill="#10a528"/>
<rect x="146.2" y="482.09" width="7.7" height="6.96" fill="#fa0606"/>
<rect x="125.5" y="482.09" width="7.1" height="6.96" fill="#10a528"/>
<rect x="153.2" y="482.09" width="7" height="6.96" fill="#fa0606"/>
<rect x="111.3" y="488.35" width="7.8" height="6.96" fill="#10a528"/>
<rect x="139.2" y="488.35" width="7.7" height="6.96" fill="#fa0606"/>
<rect x="118.4" y="488.35" width="7.8" height="6.96" fill="#10a528"/>
<rect x="146.2" y="488.35" width="7.7" height="6.96" fill="#fa0606"/>
<rect x="125.5" y="488.35" width="7.1" height="6.96" fill="#10a528"/>
<rect x="153.2" y="488.35" width="7" height="6.96" fill="#fa0606"/>
<rect x="111.3" y="494.61" width="7.8" height="6.96" fill="#10a528"/>
<rect x="139.2" y="494.61" width="7.7" height="6.96" fill="#fa0606"/>
<rect x="118.4" y="494.61" width="7.8" height="6.96" fill="#10a528"/>
<rect x="146.2" y="494.61" width="7.7" height="6.96" fill="#c80404"/>
<rect x="125.5" y="494.61" width="7.1" height="6.96" fill="#0c801e"/>
<rect x="153.2" y="494.61" width="7" height="6.96" fill="#fa0606"/>
<rect x="111.3" y="500.87" width="7.8" height="6.96" fill="#10a528"/>
<rect x="139.2" y="500.87" width="7.7" height="6.96" fill="#fa0606"/>
<rect x="118.4" y="500.87" width="7.8" height="6.96" fill="#10a528"/>
<rect x="146.2" y="500.87" width="7.7" height="6.96" fill="#fa0606"/>
<rect x="125.5" y="500.87" width="7.1" height="6.96" fill="#0c801e"/>
<rect x="153.2" y="500.87" width="7" height="6.96" fill="#fa0606"/>
<rect x="111.3" y="507.13" width="7.8" height="6.96" fill="#0a6018"/>
<rect x="139.2" y="507.13" width="7.7" height="6.96" fill="#fa0606"/>
<rect x="118.4" y="507.13" width="7.8" height="6.96" fill="#10a528"/>
<rect x="146.2" y="507.13" width="7.7" height="6.96" fill="#fa0606"/>
<rect x="125.5" y="507.13" width="7.1" height="6.96" fill="#10a528"/>
<rect x="153.2" y="507.13" width="7" height="6.96" fill="#fa0606"/>
<rect x="111.3" y="513.39" width="7.8" height="6.96" fill="#10a528"/>
<rect x="139.2" y="513.39" width="7.7" height="6.96" fill="#fa0606"/>
<rect x="118.4" y="513.39" width="7.8" height="6.96" fill="#10a528"/>
<rect x="146.2" y="513.39" width="7.7" height="6.96" fill="#fa0606"/>
<rect x="125.5" y="513.39" width="7.1" height="6.96" fill="#10a528"/>
<rect x="153.2" y="513.39" width="7" height="6.96" fill="#fa0606"/>
<rect x="111.3" y="519.65" width="7.8" height="6.96" fill="#10a528"/>
<rect x="139.2" y="519.65" width="7.7" height="6.96" fill="#fa0606"/>
<rect x="118.4" y="519.65" width="7.8" height="6.96" fill="#10a528"/>
<rect x="146.2" y="519.65" width="7.7" height="6.96" fill="#fa0606"/>
<rect x="125.5" y="519.65" width="7.1" height="6.96" fill="#10a528"/>
<rect x="153.2" y="519.65" width="7" height="6.96" fill="#fa0606"/>
<rect x="111.3" y="525.91" width="7.8" height="6.96" fill="#10a528"/>
<rect x="139.2" y="525.91" width="7.7" height="6.96" fill="#fa0606"/>
<rect x="118.4" y="525.91" width="7.8" height="6.96" fill="#10a528"/>
<rect x="146.2" y="525.91" width="7.7" height="6.96" fill="#fa0606"/>
<rect x="125.5" y="525.91" width="7.1" height="6.96" fill="#10a528"/>
<rect x="153.2" y="525.91" width="7" height="6.96" fill="#fa0606"/>
<rect x="111.3" y="532.16" width="7.8" height="6.96" fill="#0a6018"/>
<rect x="139.2" y="532.16" width="7.7" height="6.96" fill="#370404"/>
<rect x="118.4" y="532.16" width="7.8" height="6.96" fill="#10a528"/>
<rect x="146.2" y="532.16" width="7.7" height="6.96" fill="#c80404"/>
<rect x="125.5" y="532.16" width="7.1" height="6.96" fill="#10a528"/>
<rect x="153.2" y="532.16" width="7" height="6.96" fill="#fa0606"/>
<rect x="111.3" y="538.42" width="7.8" height="6.96" fill="#10a528"/>
<rect x="139.2" y="538.42" width="7.7" height="6.96" fill="#960404"/>
<rect x="118.4" y="538.42" width="7.8" height="6.96" fill="#10a528"/>
<rect x="146.2" y="538.42" width="7.7" height="6.96" fill="#c80404"/>
<rect x="125.5" y="538.42" width="7.1" height="6.96" fill="#10a528"/>
<rect x="153.2" y="538.42" width="7" height="6.96" fill="#fa0606"/>
<rect x="111.3" y="544.68" width="7.8" height="6.96" fill="#10a528"/>
<rect x="139.2" y="544.68" width="7.7" height="6.96" fill="#c80404"/>
<rect x="118.4" y="544.68" width="7.8" height="6.96" fill="#10a528"/>
<rect x="146.2" y="544.68" width="7.7" height="6.96" fill="#960404"/>
<rect x="125.5" y="544.68" width="7.1" height="6.96" fill="#10a528"/>
<rect x="153.2" y="544.68" width="7" height="6.96" fill="#fa0606"/>
<rect x="111.3" y="550.94" width="7.8" height="6.96" fill="#10a528"/>
<rect x="139.2" y="550.94" width="7.7" height="6.96" fill="#c80404"/>
<rect x="118.4" y="550.94" width="7.8" height="6.96" fill="#10a528"/>
<rect x="146.2" y="550.94" width="7.7" height="6.96" fill="#c80404"/>
<rect x="125.5" y="550.94" width="7.1" height="6.96" fill="#10a528"/>
<rect x="153.2" y="550.94" width="7" height="6.96" fill="#fa0606"/>
<rect x="111.3" y="557.2" width="7.8" height="6.96" fill="#10a528"/>
<rect x="139.2" y="557.2" width="7.7" height="6.96" fill="#c80404"/>
<rect x="118.4" y="557.2" width="7.8" height="6.96" fill="#10a528"/>
<rect x="146.2" y="557.2" width="7.7" height="6.96" fill="#fa0606"/>
<rect x="125.5" y="557.2" width="7.1" height="6.96" fill="#10a528"/>
<rect x="153.2" y="557.2" width="7" height="6.96" fill="#fa0606"/>
<rect x="111.3" y="563.46" width="7.8" height="6.96" fill="#fa0606"/>
<rect x="139.2" y="563.46" width="7.7" height="6.96" fill="#10a528"/>
<rect x="118.4" y="563.46" width="7.8" height="6.96" fill="#fa0606"/>
<rect x="146.2" y="563.46" width="7.7" height="6.96" fill="#10a528"/>
<rect x="125.5" y="563.46" width="7.1" height="6.96" fill="#960404"/>
<rect x="153.2" y="563.46" width="7" height="6.96" fill="#0c801e"/>
<rect x="111.3" y="569.72" width="7.8" height="6.96" fill="#fa0606"/>
<rect x="139.2" y="569.72" width="7.7" height="6.96" fill="#10a528"/>
<rect x="118.4" y="569.72" width="7.8" height="6.96" fill="#fa0606"/>
<rect x="146.2" y="569.72" width="7.7" height="6.96" fill="#0c801e"/>
<rect x="125.5" y="569.72" width="7.1" height="6.96" fill="#5f0404"/>
<rect x="153.2" y="569.72" width="7" height="6.96" fill="#0c801e"/>
<rect x="111.3" y="575.98" width="7.8" height="6.96" fill="#fa0606"/>
<rect x="139.2" y="575.98" width="7.7" height="6.96" fill="#10a528"/>
<rect x="118.4" y="575.98" width="7.8" height="6.96" fill="#c80404"/>
<rect x="146.2" y="575.98" width="7.7" height="6.96" fill="#0a6018"/>
<rect x="125.5" y="575.98" width="7.1" height="6.96" fill="#370404"/>
<rect x="153.2" y="575.98" width="7" height="6.96" fill="#10a528"/>
<rect x="111.3" y="582.24" width="7.8" height="6.96" fill="#fa0606"/>
<rect x="139.2" y="582.24" width="7.7" height="6.96" fill="#0a6018"/>
<rect x="118.4" y="582.24" width="7.8" height="6.96" fill="#c80404"/>
<rect x="146.2" y="582.24" width="7.7" height="6.96" fill="#0a6018"/>
<rect x="125.5" y="582.24" width="7.1" height="6.96" fill="#960404"/>
<rect x="153.2" y="582.24" width="7" height="6.96" fill="#10a528"/>
<rect x="111.3" y="588.49" width="7.8" height="6.96" fill="#fa0606"/>
<rect x="139.2" y="588.49" width="7.7" height="6.96" fill="#0a6018"/>
<rect x="118.4" y="588.49" width="7.8" height="6.96" fill="#c80404"/>
<rect x="146.2" y="588.49" width="7.7" height="6.96" fill="#0c801e"/>
<rect x="125.5" y="588.49" width="7.1" height="6.96" fill="#c80404"/>
<rect x="153.2" y="588.49" width="7" height="6.96" fill="#10a528"/>
<rect x="111.3" y="594.75" width="7.8" height="6.96" fill="#fa0606"/>
<rect x="139.2" y="594.75" width="7.7" height="6.96" fill="#0c801e"/>
<rect x="118.4" y="594.75" width="7.8" height="6.96" fill="#c80404"/>
<rect x="146.2" y="594.75" width="7.7" height="6.96" fill="#0a6018"/>
<rect x="125.5" y="594.75" width="7.1" height="6.96" fill="#c80404"/>
<rect x="153.2" y="594.75" width="7" height="6.96" fill="#10a528"/>
<rect x="111.3" y="601.01" width="7.8" height="6.96" fill="#fa0606"/>
<rect x="139.2" y="601.01" width="7.7" height="6.96" fill="#10a528"/>
<rect x="118.4" y="601.01" width="7.8" height="6.96" fill="#c80404"/>
<rect x="146.2" y="601.01" width="7.7" height="6.96" fill="#10a528"/>
<rect x="125.5" y="601.01" width="7.1" height="6.96" fill="#c80404"/>
<rect x="153.2" y="601.01" width="7" height="6.96" fill="#10a528"/>
<rect x="111.3" y="607.27" width="7.8" height="6.96" fill="#fa0606"/>
<rect x="139.2" y="607.27" width="7.7" height="6.96" fill="#10a528"/>
<rect x="118.4" y="607.27" width="7.8" height="6.96" fill="#fa0606"/>
<rect x="146.2" y="607.27" width="7.7" height="6.96" fill="#10a528"/>
<rect x="125.5" y="607.27" width="7.1" height="6.96" fill="#fa0606"/>
<rect x="153.2" y="607.27" width="7" height="6.96" fill="#10a528"/>
<rect x="111.3" y="613.53" width="7.8" height="6.96" fill="#fa0606"/>
<rect x="139.2" y="613.53" width="7.7" height="6.96" fill="#0a6018"/>
<rect x="118.4" y="613.53" width="7.8" height="6.96" fill="#c80404"/>
<rect x="146.2" y="613.53" width="7.7" height="6.96" fill="#0a6018"/>
<rect x="125.5" y="613.53" width="7.1" height="6.96" fill="#fa0606"/>
<rect x="153.2" y="613.53" width="7" height="6.96" fill="#10a528"/>
<rect x="111.3" y="619.79" width="7.8" height="6.96" fill="#fa0606"/>
<rect x="139.2" y="619.79" width="7.7" height="6.96" fill="#0a6018"/>
<rect x="118.4" y="619.79" width="7.8" height="6.96" fill="#fa0606"/>
<rect x="146.2" y="619.79" width="7.7" height="6.96" fill="#0c801e"/>
<rect x="125.5" y="619.79" width="7.1" height="6.96" fill="#fa0606"/>
<rect x="153.2" y="619.79" width="7" height="6.96" fill="#10a528"/>
<rect x="111.3" y="626.05" width="7.8" height="6.96" fill="#960404"/>
<rect x="139.2" y="626.05" width="7.7" height="6.96" fill="#10a528"/>
<rect x="118.4" y="626.05" width="7.8" height="6.96" fill="#fa0606"/>
<rect x="146.2" y="626.05" width="7.7" height="6.96" fill="#10a528"/>
<rect x="125.5" y="626.05" width="7.1" height="6.96" fill="#fa0606"/>
<rect x="153.2" y="626.05" width="7" height="6.96" fill="#0c801e"/>
<rect x="111.3" y="632.31" width="7.8" height="6.96" fill="#fa0606"/>
<rect x="139.2" y="632.31" width="7.7" height="6.96" fill="#10a528"/>
<rect x="118.4" y="632.31" width="7.8" height="6.96" fill="#fa0606"/>
<rect x="146.2" y="632.31" width="7.7" height="6.96" fill="#10a528"/>
<rect x="125.5" y="632.31" width="7.1" height="6.96" fill="#960404"/>
<rect x="153.2" y="632.31" width="7" height="6.96" fill="#0a6018"/>
<rect x="111.3" y="638.56" width="7.8" height="6.96" fill="#960404"/>
<rect x="139.2" y="638.56" width="7.7" height="6.96" fill="#10a528"/>
<rect x="118.4" y="638.56" width="7.8" height="6.96" fill="#fa0606"/>
<rect x="146.2" y="638.56" width="7.7" height="6.96" fill="#10a528"/>
<rect x="125.5" y="638.56" width="7.1" height="6.96" fill="#c80404"/>
<rect x="153.2" y="638.56" width="7" height="6.96" fill="#10a528"/>
<rect x="111.3" y="644.82" width="7.8" height="6.96" fill="#c80404"/>
<rect x="139.2" y="644.82" width="7.7" height="6.96" fill="#10a528"/>
<rect x="118.4" y="644.82" width="7.8" height="6.96" fill="#fa0606"/>
<rect x="146.2" y="644.82" width="7.7" height="6.96" fill="#10a528"/>
<rect x="125.5" y="644.82" width="7.1" height="6.96" fill="#c80404"/>
<rect x="153.2" y="644.82" width="7" height="6.96" fill="#10a528"/>
<rect x="111.3" y="651.08" width="7.8" height="6.96" fill="#960404"/>
<rect x="139.2" y="651.08" width="7.7" height="6.96" fill="#083e12"/>
<rect x="118.4" y="651.08" width="7.8" height="6.96" fill="#960404"/>
<rect x="146.2" y="651.08" width="7.7" height="6.96" fill="#0a6018"/>
<rect x="125.5" y="651.08" width="7.1" height="6.96" fill="#fa0606"/>
<rect x="153.2" y="651.08" width="7" height="6.96" fill="#10a528"/>
<rect x="111.3" y="657.34" width="7.8" height="6.26" fill="#c80404"/>
<rect x="139.2" y="657.34" width="7.7" height="6.26" fill="#083e12"/>
<rect x="118.4" y="657.34" width="7.8" height="6.26" fill="#370404"/>
<rect x="146.2" y="657.34" width="7.7" height="6.26" fill="#10a528"/>
<rect x="125.5" y="657.34" width="7.1" height="6.26" fill="#fa0606"/>
<rect x="153.2" y="657.34" width="7" height="6.26" fill="#10a528"/>
</g>
<text x="166.2" y="348.5" font-size="6.3" textLength="11.47" lengthAdjust="spacingAndGlyphs" style="fill:#151515;stroke:none">Car3</text>
<text x="166.2" y="354.79" font-size="6.3" textLength="18.24" lengthAdjust="spacingAndGlyphs" style="fill:#151515;stroke:none">Cyp1a2</text>
<text x="166.2" y="361.08" font-size="6.3" textLength="20.79" lengthAdjust="spacingAndGlyphs" style="fill:#151515;stroke:none">Cyp3a11</text>
<text x="166.2" y="367.37" font-size="6.3" textLength="12.36" lengthAdjust="spacingAndGlyphs" style="fill:#151515;stroke:none">Adh1</text>
<text x="166.2" y="373.66" font-size="6.3" textLength="13.54" lengthAdjust="spacingAndGlyphs" style="fill:#151515;stroke:none">Aldob</text>
<text x="166.2" y="379.95" font-size="6.3" textLength="16.77" lengthAdjust="spacingAndGlyphs" style="fill:#151515;stroke:none">Akr1b3</text>
<text x="166.2" y="386.24" font-size="6.3" textLength="19.12" lengthAdjust="spacingAndGlyphs" style="fill:#151515;stroke:none">Sec14l4</text>
<text x="166.2" y="392.53" font-size="6.3" textLength="13.53" lengthAdjust="spacingAndGlyphs" style="fill:#151515;stroke:none">Fmo1</text>
<text x="166.2" y="398.82" font-size="6.3" textLength="14.12" lengthAdjust="spacingAndGlyphs" style="fill:#151515;stroke:none">Rnf39</text>
<text x="166.2" y="405.11" font-size="6.3" textLength="15.01" lengthAdjust="spacingAndGlyphs" style="fill:#151515;stroke:none">Apoc2</text>
<text x="166.2" y="411.4" font-size="6.3" textLength="15.01" lengthAdjust="spacingAndGlyphs" style="fill:#151515;stroke:none">Abcb4</text>
<text x="166.2" y="417.69" font-size="6.3" textLength="12.65" lengthAdjust="spacingAndGlyphs" style="fill:#151515;stroke:none">Rdh7</text>
<text x="166.2" y="423.98" font-size="6.3" textLength="13.82" lengthAdjust="spacingAndGlyphs" style="fill:#151515;stroke:none">Apom</text>
<text x="166.2" y="430.27" font-size="6.3" textLength="22.36" lengthAdjust="spacingAndGlyphs" style="fill:#151515;stroke:none">Pla2g12b</text>
<text x="166.2" y="436.56" font-size="6.3" textLength="19.41" lengthAdjust="spacingAndGlyphs" style="fill:#151515;stroke:none">Akr1c14</text>
<text x="166.2" y="442.85" font-size="6.3" textLength="18.83" lengthAdjust="spacingAndGlyphs" style="fill:#151515;stroke:none">Ngfrap1</text>
<text x="166.2" y="449.14" font-size="6.3" textLength="7.36" lengthAdjust="spacingAndGlyphs" style="fill:#151515;stroke:none">Id2</text>
<text x="166.2" y="455.43" font-size="6.3" textLength="8.82" lengthAdjust="spacingAndGlyphs" style="fill:#151515;stroke:none">Alpl</text>
<text x="166.2" y="461.72" font-size="6.3" textLength="12.95" lengthAdjust="spacingAndGlyphs" style="fill:#151515;stroke:none">Gpd1</text>
<text x="166.2" y="468.01" font-size="6.3" textLength="14.12" lengthAdjust="spacingAndGlyphs" style="fill:#151515;stroke:none">Pparg</text>
<text x="166.2" y="474.3" font-size="6.3" textLength="12.95" lengthAdjust="spacingAndGlyphs" style="fill:#151515;stroke:none">Gde1</text>
<text x="166.2" y="480.59" font-size="6.3" textLength="16.77" lengthAdjust="spacingAndGlyphs" style="fill:#151515;stroke:none">Smad7</text>
<text x="166.2" y="486.88" font-size="6.3" textLength="7.36" lengthAdjust="spacingAndGlyphs" style="fill:#151515;stroke:none">Id3</text>
<text x="166.2" y="493.17" font-size="6.3" textLength="13.83" lengthAdjust="spacingAndGlyphs" style="fill:#151515;stroke:none">Atoh8</text>
<text x="166.2" y="499.46" font-size="6.3" textLength="12.06" lengthAdjust="spacingAndGlyphs" style="fill:#151515;stroke:none">Egfl4</text>
<text x="166.2" y="505.75" font-size="6.3" textLength="7.36" lengthAdjust="spacingAndGlyphs" style="fill:#151515;stroke:none">Id1</text>
<text x="166.2" y="512.04" font-size="6.3" textLength="14.12" lengthAdjust="spacingAndGlyphs" style="fill:#151515;stroke:none">Hamp</text>
<text x="166.2" y="518.33" font-size="6.3" textLength="19.71" lengthAdjust="spacingAndGlyphs" style="fill:#151515;stroke:none">Sema3a</text>
<text x="166.2" y="524.62" font-size="6.3" textLength="13.83" lengthAdjust="spacingAndGlyphs" style="fill:#151515;stroke:none">Cldn1</text>
<text x="166.2" y="530.91" font-size="6.3" textLength="10.59" lengthAdjust="spacingAndGlyphs" style="fill:#151515;stroke:none">A1cf</text>
<text x="166.2" y="537.2" font-size="6.3" textLength="15.01" lengthAdjust="spacingAndGlyphs" style="fill:#151515;stroke:none">Epas1</text>
<text x="166.2" y="543.49" font-size="6.3" textLength="15.3" lengthAdjust="spacingAndGlyphs" style="fill:#151515;stroke:none">Apoa5</text>
<text x="166.2" y="549.78" font-size="6.3" textLength="16.77" lengthAdjust="spacingAndGlyphs" style="fill:#151515;stroke:none">Smad9</text>
<text x="166.2" y="556.07" font-size="6.3" textLength="15.59" lengthAdjust="spacingAndGlyphs" style="fill:#151515;stroke:none">Mosc1</text>
<text x="166.2" y="562.36" font-size="6.3" textLength="11.47" lengthAdjust="spacingAndGlyphs" style="fill:#151515;stroke:none">Nrn1</text>
<text x="166.2" y="568.65" font-size="6.3" textLength="19.71" lengthAdjust="spacingAndGlyphs" style="fill:#151515;stroke:none">Camk2b</text>
<text x="166.2" y="574.94" font-size="6.3" textLength="12.36" lengthAdjust="spacingAndGlyphs" style="fill:#151515;stroke:none">Edn1</text>
<text x="166.2" y="581.23" font-size="6.3" textLength="17.36" lengthAdjust="spacingAndGlyphs" style="fill:#151515;stroke:none">Gata2b</text>
<text x="166.2" y="587.52" font-size="6.3" textLength="16.77" lengthAdjust="spacingAndGlyphs" style="fill:#151515;stroke:none">P2ry14</text>
<text x="166.2" y="593.81" font-size="6.3" textLength="19.12" lengthAdjust="spacingAndGlyphs" style="fill:#151515;stroke:none">Slco3a1</text>
<text x="166.2" y="600.1" font-size="6.3" textLength="14.12" lengthAdjust="spacingAndGlyphs" style="fill:#151515;stroke:none">Cryab</text>
<text x="166.2" y="606.39" font-size="6.3" textLength="15.59" lengthAdjust="spacingAndGlyphs" style="fill:#151515;stroke:none">Cdh17</text>
<text x="166.2" y="612.68" font-size="6.3" textLength="14.71" lengthAdjust="spacingAndGlyphs" style="fill:#151515;stroke:none">Spcs3</text>
<text x="166.2" y="618.97" font-size="6.3" textLength="14.51" lengthAdjust="spacingAndGlyphs" style="fill:#151515;stroke:none">Timp2</text>
<text x="166.2" y="625.26" font-size="6.3" textLength="17.35" lengthAdjust="spacingAndGlyphs" style="fill:#151515;stroke:none">Gprc5a</text>
<text x="166.2" y="631.55" font-size="6.3" textLength="13.82" lengthAdjust="spacingAndGlyphs" style="fill:#151515;stroke:none">Oasl2</text>
<text x="166.2" y="637.84" font-size="6.3" textLength="14.71" lengthAdjust="spacingAndGlyphs" style="fill:#151515;stroke:none">Gpr56</text>
<text x="166.2" y="644.13" font-size="6.3" textLength="7.35" lengthAdjust="spacingAndGlyphs" style="fill:#151515;stroke:none">NA</text>
<text x="166.2" y="650.42" font-size="6.3" textLength="14.42" lengthAdjust="spacingAndGlyphs" style="fill:#151515;stroke:none">Lce6a</text>
<text x="166.2" y="656.71" font-size="6.3" textLength="14.41" lengthAdjust="spacingAndGlyphs" style="fill:#151515;stroke:none">Mst4d</text>
<text x="166.2" y="663" font-size="6.3" textLength="13.23" lengthAdjust="spacingAndGlyphs" style="fill:#151515;stroke:none">Cxcl1</text>
<text x="166" y="339.6" font-size="7.2" textLength="17.8" lengthAdjust="spacingAndGlyphs">Gene</text>
<line x1="166" y1="341.5" x2="183.8" y2="341.5" stroke="#111" stroke-width="0.6"/>
<text x="111.7" y="666.2" font-size="6.4" textLength="33.6" lengthAdjust="spacingAndGlyphs" transform="rotate(90 111.7 666.2)" style="fill:#2a2a2a;stroke:none">mHC_Control</text>
<text x="119.3" y="666.2" font-size="6.4" textLength="33.6" lengthAdjust="spacingAndGlyphs" transform="rotate(90 119.3 666.2)" style="fill:#2a2a2a;stroke:none">mHC_Control</text>
<text x="127.1" y="666.2" font-size="6.4" textLength="33.6" lengthAdjust="spacingAndGlyphs" transform="rotate(90 127.1 666.2)" style="fill:#2a2a2a;stroke:none">mHC_Control</text>
<text x="140.1" y="666.2" font-size="6.4" textLength="26.3" lengthAdjust="spacingAndGlyphs" transform="rotate(90 140.1 666.2)" style="fill:#2a2a2a;stroke:none">mHC_BMP2</text>
<text x="148" y="666.2" font-size="6.4" textLength="26.3" lengthAdjust="spacingAndGlyphs" transform="rotate(90 148 666.2)" style="fill:#2a2a2a;stroke:none">mHC_BMP2</text>
<text x="155.6" y="666.2" font-size="6.4" textLength="26.3" lengthAdjust="spacingAndGlyphs" transform="rotate(90 155.6 666.2)" style="fill:#2a2a2a;stroke:none">mHC_BMP2</text>
<line x1="247.5" y1="341.5" x2="247.5" y2="387.2" stroke="#111" stroke-width="1.5"/>
<line x1="247.5" y1="393.2" x2="247.5" y2="440" stroke="#111" stroke-width="1.5"/>
<line x1="246.2" y1="388.5" x2="248.8" y2="385.9" stroke="#111" stroke-width="1"/>
<line x1="246.2" y1="394.5" x2="248.8" y2="391.9" stroke="#111" stroke-width="1"/>
<line x1="244.5" y1="350.5" x2="247.5" y2="350.5" stroke="#111" stroke-width="1"/>
<text x="242" y="353.64" font-size="9" text-anchor="end" textLength="19.59" lengthAdjust="spacingAndGlyphs">0.400</text>
<line x1="244.5" y1="365.5" x2="247.5" y2="365.5" stroke="#111" stroke-width="1"/>
<text x="242" y="368.74" font-size="9" text-anchor="end" textLength="19.59" lengthAdjust="spacingAndGlyphs">0.300</text>
<line x1="244.5" y1="380.5" x2="247.5" y2="380.5" stroke="#111" stroke-width="1"/>
<text x="242" y="384.04" font-size="9" text-anchor="end" textLength="19.59" lengthAdjust="spacingAndGlyphs">0.200</text>
<line x1="244.5" y1="398.5" x2="247.5" y2="398.5" stroke="#111" stroke-width="1"/>
<text x="242" y="401.44" font-size="9" text-anchor="end" textLength="19.59" lengthAdjust="spacingAndGlyphs">0.009</text>
<line x1="244.5" y1="411.5" x2="247.5" y2="411.5" stroke="#111" stroke-width="1"/>
<text x="242" y="414.84" font-size="9" text-anchor="end" textLength="19.59" lengthAdjust="spacingAndGlyphs">0.006</text>
<line x1="244.5" y1="425.5" x2="247.5" y2="425.5" stroke="#111" stroke-width="1"/>
<text x="242" y="428.34" font-size="9" text-anchor="end" textLength="19.59" lengthAdjust="spacingAndGlyphs">0.003</text>
<line x1="244.5" y1="439.5" x2="247.5" y2="439.5" stroke="#111" stroke-width="1"/>
<text x="242" y="442.64" font-size="9" text-anchor="end" textLength="4.35" lengthAdjust="spacingAndGlyphs">0</text>
<rect x="266.2" y="438.3" width="4.6" height="1.1" fill="#5a1020"/>
<line x1="278.5" y1="437.2" x2="278.5" y2="435.5" stroke="#111" stroke-width="1.3"/>
<line x1="277.2" y1="435.9" x2="280.4" y2="435.9" stroke="#111" stroke-width="1.4"/>
<rect x="274" y="436.7" width="9.6" height="2.7" fill="#2f4e8c" stroke="#243f75" stroke-width="0.5"/>
<line x1="314.5" y1="434.4" x2="314.5" y2="424.7" stroke="#111" stroke-width="1.3"/>
<line x1="313.25" y1="425.1" x2="316.45" y2="425.1" stroke="#111" stroke-width="1.4"/>
<rect x="309.9" y="433.9" width="9.9" height="5.5" fill="#b20a2c" stroke="#8e0c25" stroke-width="0.5"/>
<rect x="319.8" y="394.2" width="10.2" height="45.2" fill="#2f4e8c" stroke="#243f75" stroke-width="0.5"/>
<line x1="324.5" y1="386.9" x2="324.5" y2="349.3" stroke="#111" stroke-width="1.1"/>
<line x1="323.3" y1="349.5" x2="326.5" y2="349.5" stroke="#111" stroke-width="1.2"/>
<rect x="319.8" y="386.9" width="10.2" height="1.6" fill="#2f4e8c" stroke="#243f75" stroke-width="0.5"/>
<circle cx="275.7" cy="432.6" r="1" fill="#111"/>
<circle cx="278.7" cy="432.6" r="1" fill="#111"/>
<circle cx="281.7" cy="432.6" r="1" fill="#111"/>
<circle cx="323.5" cy="344.3" r="1" fill="#111"/>
<circle cx="326.5" cy="344.3" r="1" fill="#111"/>
<text x="215.9" y="400.5" font-size="9" font-style="italic" textLength="22.6" lengthAdjust="spacingAndGlyphs" transform="rotate(-90 215.9 400.5)">Hamp</text>
<text x="256.5" y="450.2" font-size="8.1" textLength="31.7" lengthAdjust="spacingAndGlyphs">mLSECs</text>
<text x="294.6" y="450.2" font-size="8.1" textLength="50.5" lengthAdjust="spacingAndGlyphs">mHepatocytes</text>
<line x1="400.5" y1="340.4" x2="400.5" y2="386.8" stroke="#111" stroke-width="1.5"/>
<line x1="400.5" y1="391.8" x2="400.5" y2="439.7" stroke="#111" stroke-width="1.5"/>
<line x1="399.2" y1="388.1" x2="401.8" y2="385.5" stroke="#111" stroke-width="1"/>
<line x1="399.2" y1="393.1" x2="401.8" y2="390.5" stroke="#111" stroke-width="1"/>
<line x1="397.5" y1="357.5" x2="400.5" y2="357.5" stroke="#111" stroke-width="1"/>
<text x="395" y="360.54" font-size="9" text-anchor="end" textLength="19.59" lengthAdjust="spacingAndGlyphs">0.010</text>
<text x="395" y="389.04" font-size="9" text-anchor="end" textLength="19.59" lengthAdjust="spacingAndGlyphs">0.008</text>
<line x1="397.5" y1="393.5" x2="400.5" y2="393.5" stroke="#111" stroke-width="1"/>
<text x="395" y="396.84" font-size="9" text-anchor="end" textLength="19.59" lengthAdjust="spacingAndGlyphs">0.002</text>
<line x1="397.5" y1="416.5" x2="400.5" y2="416.5" stroke="#111" stroke-width="1"/>
<text x="395" y="419.64" font-size="9" text-anchor="end" textLength="19.59" lengthAdjust="spacingAndGlyphs">0.001</text>
<line x1="397.5" y1="439.5" x2="400.5" y2="439.5" stroke="#111" stroke-width="1"/>
<text x="395" y="442.34" font-size="9" text-anchor="end" textLength="4.35" lengthAdjust="spacingAndGlyphs">0</text>
<line x1="422.5" y1="424.5" x2="422.5" y2="415.1" stroke="#111" stroke-width="1.3"/>
<line x1="421.2" y1="415.5" x2="424.4" y2="415.5" stroke="#111" stroke-width="1.4"/>
<rect x="417.8" y="424" width="10" height="15.1" fill="#b20a2c" stroke="#8e0c25" stroke-width="0.5"/>
<line x1="432.5" y1="426.9" x2="432.5" y2="419" stroke="#111" stroke-width="1.3"/>
<line x1="431.2" y1="419.4" x2="434.4" y2="419.4" stroke="#111" stroke-width="1.4"/>
<rect x="427.8" y="426.4" width="10" height="12.7" fill="#2f4e8c" stroke="#243f75" stroke-width="0.5"/>
<rect x="468" y="438.4" width="2" height="0.7" fill="#b20a2c" stroke="#8e0c25" stroke-width="0.5"/>
<rect x="474.4" y="394" width="10.4" height="45.1" fill="#2f4e8c" stroke="#243f75" stroke-width="0.5"/>
<line x1="479.5" y1="381.7" x2="479.5" y2="352.3" stroke="#111" stroke-width="1.1"/>
<line x1="478" y1="352.5" x2="481.2" y2="352.5" stroke="#111" stroke-width="1.2"/>
<rect x="474.4" y="381.7" width="10.4" height="5.9" fill="#2f4e8c" stroke="#243f75" stroke-width="0.5"/>
<circle cx="475.3" cy="348.5" r="1" fill="#111"/>
<circle cx="478.3" cy="348.5" r="1" fill="#111"/>
<circle cx="481.3" cy="348.5" r="1" fill="#111"/>
<circle cx="484.3" cy="348.5" r="1" fill="#111"/>
<text x="370.3" y="400.8" font-size="9" font-style="italic" textLength="23.8" lengthAdjust="spacingAndGlyphs" transform="rotate(-90 370.3 400.8)">Atoh8</text>
<text x="412.3" y="450.2" font-size="8.1" textLength="30.9" lengthAdjust="spacingAndGlyphs">mLSECs</text>
<text x="449" y="450.2" font-size="8.1" textLength="50.7" lengthAdjust="spacingAndGlyphs">mHepatocytes</text>
<line x1="247.5" y1="466.3" x2="247.5" y2="566.9" stroke="#111" stroke-width="1.5"/>
<line x1="244" y1="566.5" x2="247" y2="566.5" stroke="#111" stroke-width="1"/>
<text x="241.5" y="569.54" font-size="9" text-anchor="end" textLength="4.35" lengthAdjust="spacingAndGlyphs">0</text>
<line x1="244" y1="546.5" x2="247" y2="546.5" stroke="#111" stroke-width="1"/>
<text x="241.5" y="549.94" font-size="9" text-anchor="end" textLength="15.24" lengthAdjust="spacingAndGlyphs">0.01</text>
<line x1="244" y1="527.5" x2="247" y2="527.5" stroke="#111" stroke-width="1"/>
<text x="241.5" y="530.34" font-size="9" text-anchor="end" textLength="15.24" lengthAdjust="spacingAndGlyphs">0.02</text>
<line x1="244" y1="507.5" x2="247" y2="507.5" stroke="#111" stroke-width="1"/>
<text x="241.5" y="510.74" font-size="9" text-anchor="end" textLength="15.24" lengthAdjust="spacingAndGlyphs">0.03</text>
<line x1="244" y1="487.5" x2="247" y2="487.5" stroke="#111" stroke-width="1"/>
<text x="241.5" y="491.14" font-size="9" text-anchor="end" textLength="15.24" lengthAdjust="spacingAndGlyphs">0.04</text>
<line x1="244" y1="468.5" x2="247" y2="468.5" stroke="#111" stroke-width="1"/>
<text x="241.5" y="471.54" font-size="9" text-anchor="end" textLength="15.24" lengthAdjust="spacingAndGlyphs">0.05</text>
<line x1="269.5" y1="531.3" x2="269.5" y2="513.8" stroke="#111" stroke-width="1.3"/>
<line x1="267.45" y1="514.2" x2="270.65" y2="514.2" stroke="#111" stroke-width="1.4"/>
<rect x="263.8" y="530.8" width="10.5" height="35.5" fill="#b20a2c" stroke="#8e0c25" stroke-width="0.5"/>
<line x1="279.5" y1="537.5" x2="279.5" y2="523.8" stroke="#111" stroke-width="1.3"/>
<line x1="277.55" y1="524.2" x2="280.75" y2="524.2" stroke="#111" stroke-width="1.4"/>
<rect x="274.3" y="537" width="9.7" height="29.3" fill="#2f4e8c" stroke="#243f75" stroke-width="0.5"/>
<line x1="314.5" y1="563.8" x2="314.5" y2="561.3" stroke="#111" stroke-width="1.3"/>
<line x1="313.15" y1="561.7" x2="316.35" y2="561.7" stroke="#111" stroke-width="1.4"/>
<rect x="309.5" y="563.3" width="10.5" height="3" fill="#b20a2c" stroke="#8e0c25" stroke-width="0.5"/>
<line x1="325.5" y1="518.5" x2="325.5" y2="488" stroke="#111" stroke-width="1.3"/>
<line x1="323.4" y1="488.4" x2="326.6" y2="488.4" stroke="#111" stroke-width="1.4"/>
<rect x="320" y="518" width="10" height="48.3" fill="#2f4e8c" stroke="#243f75" stroke-width="0.5"/>
<circle cx="323.5" cy="483.2" r="1" fill="#111"/>
<circle cx="326.5" cy="483.2" r="1" fill="#111"/>
<text x="221.1" y="521.4" font-size="9" font-style="italic" textLength="11.8" lengthAdjust="spacingAndGlyphs" transform="rotate(-90 221.1 521.4)">Id1</text>
<text x="256.3" y="577.5" font-size="8.1" textLength="32.2" lengthAdjust="spacingAndGlyphs">mLSECs</text>
<text x="294.1" y="577.5" font-size="8.1" textLength="51.2" lengthAdjust="spacingAndGlyphs">mHepatocytes</text>
<line x1="247.5" y1="592.5" x2="247.5" y2="693.9" stroke="#111" stroke-width="1.5"/>
<line x1="244" y1="693.5" x2="247" y2="693.5" stroke="#111" stroke-width="1"/>
<text x="241.5" y="696.54" font-size="9" text-anchor="end" textLength="4.35" lengthAdjust="spacingAndGlyphs">0</text>
<line x1="244" y1="673.5" x2="247" y2="673.5" stroke="#111" stroke-width="1"/>
<text x="241.5" y="676.88" font-size="9" text-anchor="end" textLength="15.24" lengthAdjust="spacingAndGlyphs">0.02</text>
<line x1="244" y1="653.5" x2="247" y2="653.5" stroke="#111" stroke-width="1"/>
<text x="241.5" y="657.22" font-size="9" text-anchor="end" textLength="15.24" lengthAdjust="spacingAndGlyphs">0.04</text>
<line x1="244" y1="634.5" x2="247" y2="634.5" stroke="#111" stroke-width="1"/>
<text x="241.5" y="637.56" font-size="9" text-anchor="end" textLength="15.24" lengthAdjust="spacingAndGlyphs">0.06</text>
<line x1="244" y1="614.5" x2="247" y2="614.5" stroke="#111" stroke-width="1"/>
<text x="241.5" y="617.9" font-size="9" text-anchor="end" textLength="15.24" lengthAdjust="spacingAndGlyphs">0.08</text>
<line x1="244" y1="595.5" x2="247" y2="595.5" stroke="#111" stroke-width="1"/>
<text x="241.5" y="598.24" font-size="9" text-anchor="end" textLength="15.24" lengthAdjust="spacingAndGlyphs">0.10</text>
<line x1="269.5" y1="661" x2="269.5" y2="645.5" stroke="#111" stroke-width="1.3"/>
<line x1="267.45" y1="645.9" x2="270.65" y2="645.9" stroke="#111" stroke-width="1.4"/>
<rect x="263.8" y="660.5" width="10.5" height="32.8" fill="#b20a2c" stroke="#8e0c25" stroke-width="0.5"/>
<line x1="279.5" y1="664.8" x2="279.5" y2="650.5" stroke="#111" stroke-width="1.3"/>
<line x1="277.55" y1="650.9" x2="280.75" y2="650.9" stroke="#111" stroke-width="1.4"/>
<rect x="274.3" y="664.3" width="9.7" height="29" fill="#2f4e8c" stroke="#243f75" stroke-width="0.5"/>
<line x1="314.5" y1="686.3" x2="314.5" y2="682.5" stroke="#111" stroke-width="1.3"/>
<line x1="313.15" y1="682.9" x2="316.35" y2="682.9" stroke="#111" stroke-width="1.4"/>
<rect x="309.5" y="685.8" width="10.5" height="7.5" fill="#b20a2c" stroke="#8e0c25" stroke-width="0.5"/>
<line x1="325.5" y1="628.5" x2="325.5" y2="600.5" stroke="#111" stroke-width="1.3"/>
<line x1="323.4" y1="600.9" x2="326.6" y2="600.9" stroke="#111" stroke-width="1.4"/>
<rect x="320" y="628" width="10" height="65.3" fill="#2f4e8c" stroke="#243f75" stroke-width="0.5"/>
<circle cx="322" cy="596.5" r="1" fill="#111"/>
<circle cx="325" cy="596.5" r="1" fill="#111"/>
<circle cx="328" cy="596.5" r="1" fill="#111"/>
<text x="221.3" y="648.3" font-size="9" font-style="italic" textLength="12.5" lengthAdjust="spacingAndGlyphs" transform="rotate(-90 221.3 648.3)">Id2</text>
<text x="256.3" y="704" font-size="8.1" textLength="32.2" lengthAdjust="spacingAndGlyphs">mLSECs</text>
<text x="294.1" y="704" font-size="8.1" textLength="51.2" lengthAdjust="spacingAndGlyphs">mHepatocytes</text>
<line x1="400.5" y1="593.2" x2="400.5" y2="694.1" stroke="#111" stroke-width="1.5"/>
<line x1="397.6" y1="693.5" x2="400.6" y2="693.5" stroke="#111" stroke-width="1"/>
<text x="395.1" y="696.74" font-size="9" text-anchor="end" textLength="4.35" lengthAdjust="spacingAndGlyphs">0</text>
<line x1="397.6" y1="677.5" x2="400.6" y2="677.5" stroke="#111" stroke-width="1"/>
<text x="395.1" y="680.39" font-size="9" text-anchor="end" textLength="15.24" lengthAdjust="spacingAndGlyphs">0.02</text>
<line x1="397.6" y1="660.5" x2="400.6" y2="660.5" stroke="#111" stroke-width="1"/>
<text x="395.1" y="664.04" font-size="9" text-anchor="end" textLength="15.24" lengthAdjust="spacingAndGlyphs">0.04</text>
<line x1="397.6" y1="644.5" x2="400.6" y2="644.5" stroke="#111" stroke-width="1"/>
<text x="395.1" y="647.69" font-size="9" text-anchor="end" textLength="15.24" lengthAdjust="spacingAndGlyphs">0.06</text>
<line x1="397.6" y1="628.5" x2="400.6" y2="628.5" stroke="#111" stroke-width="1"/>
<text x="395.1" y="631.34" font-size="9" text-anchor="end" textLength="15.24" lengthAdjust="spacingAndGlyphs">0.08</text>
<line x1="397.6" y1="611.5" x2="400.6" y2="611.5" stroke="#111" stroke-width="1"/>
<text x="395.1" y="614.99" font-size="9" text-anchor="end" textLength="15.24" lengthAdjust="spacingAndGlyphs">0.10</text>
<line x1="397.6" y1="595.5" x2="400.6" y2="595.5" stroke="#111" stroke-width="1"/>
<text x="395.1" y="598.64" font-size="9" text-anchor="end" textLength="15.24" lengthAdjust="spacingAndGlyphs">0.12</text>
<line x1="422.5" y1="636.8" x2="422.5" y2="607.7" stroke="#111" stroke-width="1.3"/>
<line x1="421" y1="608.1" x2="424.2" y2="608.1" stroke="#111" stroke-width="1.4"/>
<rect x="417.5" y="636.3" width="10.2" height="57.2" fill="#b20a2c" stroke="#8e0c25" stroke-width="0.5"/>
<line x1="432.5" y1="651.9" x2="432.5" y2="629.8" stroke="#111" stroke-width="1.3"/>
<line x1="431.15" y1="630.2" x2="434.35" y2="630.2" stroke="#111" stroke-width="1.4"/>
<rect x="427.7" y="651.4" width="10.1" height="42.1" fill="#2f4e8c" stroke="#243f75" stroke-width="0.5"/>
<line x1="469.5" y1="691.3" x2="469.5" y2="689.8" stroke="#111" stroke-width="1.3"/>
<line x1="467.65" y1="690.2" x2="470.85" y2="690.2" stroke="#111" stroke-width="1.4"/>
<rect x="464" y="690.8" width="10.5" height="2.7" fill="#b20a2c" stroke="#8e0c25" stroke-width="0.5"/>
<line x1="479.5" y1="676.8" x2="479.5" y2="666.2" stroke="#111" stroke-width="1.3"/>
<line x1="477.95" y1="666.6" x2="481.15" y2="666.6" stroke="#111" stroke-width="1.4"/>
<rect x="474.5" y="676.3" width="10.1" height="17.2" fill="#2f4e8c" stroke="#243f75" stroke-width="0.5"/>
<circle cx="478" cy="661.7" r="1" fill="#111"/>
<circle cx="481" cy="661.7" r="1" fill="#111"/>
<text x="374.6" y="648.5" font-size="9" font-style="italic" textLength="12.2" lengthAdjust="spacingAndGlyphs" transform="rotate(-90 374.6 648.5)">Id3</text>
<text x="410.8" y="703.8" font-size="8.1" textLength="32.9" lengthAdjust="spacingAndGlyphs">mLSECs</text>
<text x="449" y="703.8" font-size="8.1" textLength="50.7" lengthAdjust="spacingAndGlyphs">mHepatocytes</text>
<rect x="389.8" y="514.2" width="10.2" height="5.8" fill="#b20a2c" stroke="#8e0c25" stroke-width="0.5"/>
<text x="402.2" y="519.8" font-size="8.4" textLength="31.6" lengthAdjust="spacingAndGlyphs">untreated</text>
<rect x="389.8" y="523.6" width="10.2" height="5.8" fill="#2f4e8c" stroke="#243f75" stroke-width="0.5"/>
<text x="402.2" y="529" font-size="8.4" textLength="19.3" lengthAdjust="spacingAndGlyphs">Bmp2</text>
<line x1="42.5" y1="29.4" x2="42.5" y2="90.6" stroke="#111" stroke-width="1.5"/>
<line x1="41.4" y1="90.5" x2="102" y2="90.5" stroke="#111" stroke-width="1.5"/>
<line x1="44.5" y1="90.2" x2="44.5" y2="92.8" stroke="#111" stroke-width="1.1"/>
<line x1="73.5" y1="90.2" x2="73.5" y2="92.8" stroke="#111" stroke-width="1.1"/>
<line x1="101.5" y1="90.2" x2="101.5" y2="92.8" stroke="#111" stroke-width="1.1"/>
<line x1="142.5" y1="29.4" x2="142.5" y2="90.6" stroke="#111" stroke-width="1.5"/>
<line x1="142" y1="90.5" x2="203.5" y2="90.5" stroke="#111" stroke-width="1.5"/>
<line x1="145.5" y1="90.2" x2="145.5" y2="92.8" stroke="#111" stroke-width="1.1"/>
<line x1="173.5" y1="90.2" x2="173.5" y2="92.8" stroke="#111" stroke-width="1.1"/>
<line x1="201.5" y1="90.2" x2="201.5" y2="92.8" stroke="#111" stroke-width="1.1"/>
<line x1="248.5" y1="29.4" x2="248.5" y2="90.6" stroke="#111" stroke-width="1.5"/>
<line x1="247.5" y1="90.5" x2="309" y2="90.5" stroke="#111" stroke-width="1.5"/>
<line x1="251.5" y1="90.2" x2="251.5" y2="92.8" stroke="#111" stroke-width="1.1"/>
<line x1="278.5" y1="90.2" x2="278.5" y2="92.8" stroke="#111" stroke-width="1.1"/>
<line x1="306.5" y1="90.2" x2="306.5" y2="92.8" stroke="#111" stroke-width="1.1"/>
<line x1="348.5" y1="29.4" x2="348.5" y2="90.6" stroke="#111" stroke-width="1.5"/>
<line x1="347.9" y1="90.5" x2="408.7" y2="90.5" stroke="#111" stroke-width="1.5"/>
<line x1="351.5" y1="90.2" x2="351.5" y2="92.8" stroke="#111" stroke-width="1.1"/>
<line x1="379.5" y1="90.2" x2="379.5" y2="92.8" stroke="#111" stroke-width="1.1"/>
<line x1="407.5" y1="90.2" x2="407.5" y2="92.8" stroke="#111" stroke-width="1.1"/>
<line x1="451.5" y1="29.4" x2="451.5" y2="90.6" stroke="#111" stroke-width="1.5"/>
<line x1="450.8" y1="90.5" x2="511.5" y2="90.5" stroke="#111" stroke-width="1.5"/>
<line x1="454.5" y1="90.2" x2="454.5" y2="92.8" stroke="#111" stroke-width="1.1"/>
<line x1="482.5" y1="90.2" x2="482.5" y2="92.8" stroke="#111" stroke-width="1.1"/>
<line x1="510.5" y1="90.2" x2="510.5" y2="92.8" stroke="#111" stroke-width="1.1"/>
<line x1="50.5" y1="146.8" x2="50.5" y2="248.2" stroke="#111" stroke-width="1.5"/>
<line x1="49.8" y1="247.5" x2="167.3" y2="247.5" stroke="#111" stroke-width="1.5"/>
<line x1="67.5" y1="247.6" x2="67.5" y2="250.2" stroke="#111" stroke-width="1.1"/>
<line x1="84.5" y1="247.6" x2="84.5" y2="250.2" stroke="#111" stroke-width="1.1"/>
<line x1="100.5" y1="247.6" x2="100.5" y2="250.2" stroke="#111" stroke-width="1.1"/>
<line x1="117.5" y1="247.6" x2="117.5" y2="250.2" stroke="#111" stroke-width="1.1"/>
<line x1="133.5" y1="247.6" x2="133.5" y2="250.2" stroke="#111" stroke-width="1.1"/>
<line x1="150.5" y1="247.6" x2="150.5" y2="250.2" stroke="#111" stroke-width="1.1"/>
<line x1="226.5" y1="146.8" x2="226.5" y2="248.2" stroke="#111" stroke-width="1.5"/>
<line x1="225.9" y1="247.5" x2="341" y2="247.5" stroke="#111" stroke-width="1.5"/>
<line x1="242.5" y1="247.6" x2="242.5" y2="250.2" stroke="#111" stroke-width="1.1"/>
<line x1="259.5" y1="247.6" x2="259.5" y2="250.2" stroke="#111" stroke-width="1.1"/>
<line x1="275.5" y1="247.6" x2="275.5" y2="250.2" stroke="#111" stroke-width="1.1"/>
<line x1="292.5" y1="247.6" x2="292.5" y2="250.2" stroke="#111" stroke-width="1.1"/>
<line x1="308.5" y1="247.6" x2="308.5" y2="250.2" stroke="#111" stroke-width="1.1"/>
<line x1="324.5" y1="247.6" x2="324.5" y2="250.2" stroke="#111" stroke-width="1.1"/>
<line x1="388.5" y1="146.8" x2="388.5" y2="247.9" stroke="#111" stroke-width="1.5"/>
<line x1="388.1" y1="247.5" x2="507.7" y2="247.5" stroke="#111" stroke-width="1.5"/>
<line x1="394.5" y1="247.3" x2="394.5" y2="249.9" stroke="#111" stroke-width="1.1"/>
<line x1="448.5" y1="247.3" x2="448.5" y2="249.9" stroke="#111" stroke-width="1.1"/>
<line x1="502.5" y1="247.3" x2="502.5" y2="249.9" stroke="#111" stroke-width="1.1"/>
<line x1="246.9" y1="439.5" x2="345.8" y2="439.5" stroke="#111" stroke-width="1.5"/>
<line x1="250.5" y1="439.4" x2="250.5" y2="442" stroke="#111" stroke-width="1.1"/>
<line x1="296.5" y1="439.4" x2="296.5" y2="442" stroke="#111" stroke-width="1.1"/>
<line x1="343.5" y1="439.4" x2="343.5" y2="442" stroke="#111" stroke-width="1.1"/>
<line x1="399.9" y1="439.5" x2="501.8" y2="439.5" stroke="#111" stroke-width="1.5"/>
<line x1="404.5" y1="439.1" x2="404.5" y2="441.7" stroke="#111" stroke-width="1.1"/>
<line x1="450.5" y1="439.1" x2="450.5" y2="441.7" stroke="#111" stroke-width="1.1"/>
<line x1="500.5" y1="439.1" x2="500.5" y2="441.7" stroke="#111" stroke-width="1.1"/>
<line x1="246.4" y1="566.5" x2="345" y2="566.5" stroke="#111" stroke-width="1.5"/>
<line x1="251.5" y1="566.3" x2="251.5" y2="568.9" stroke="#111" stroke-width="1.1"/>
<line x1="296.5" y1="566.3" x2="296.5" y2="568.9" stroke="#111" stroke-width="1.1"/>
<line x1="343.5" y1="566.3" x2="343.5" y2="568.9" stroke="#111" stroke-width="1.1"/>
<line x1="246.4" y1="693.5" x2="345" y2="693.5" stroke="#111" stroke-width="1.5"/>
<line x1="251.5" y1="693.3" x2="251.5" y2="695.9" stroke="#111" stroke-width="1.1"/>
<line x1="296.5" y1="693.3" x2="296.5" y2="695.9" stroke="#111" stroke-width="1.1"/>
<line x1="343.5" y1="693.3" x2="343.5" y2="695.9" stroke="#111" stroke-width="1.1"/>
<line x1="400" y1="693.5" x2="501.5" y2="693.5" stroke="#111" stroke-width="1.5"/>
<line x1="404.5" y1="693.5" x2="404.5" y2="696.1" stroke="#111" stroke-width="1.1"/>
<line x1="450.5" y1="693.5" x2="450.5" y2="696.1" stroke="#111" stroke-width="1.1"/>
<line x1="500.5" y1="693.5" x2="500.5" y2="696.1" stroke="#111" stroke-width="1.1"/>
<rect x="0" y="0" width="520" height="1.1" fill="#000"/><rect x="0" y="0" width="1.2" height="713" fill="#000"/><rect x="518.85" y="0" width="1.15" height="713" fill="#000"/><rect x="0" y="711.8" width="520" height="1.2" fill="#000"/>
</svg>
</body></html>
